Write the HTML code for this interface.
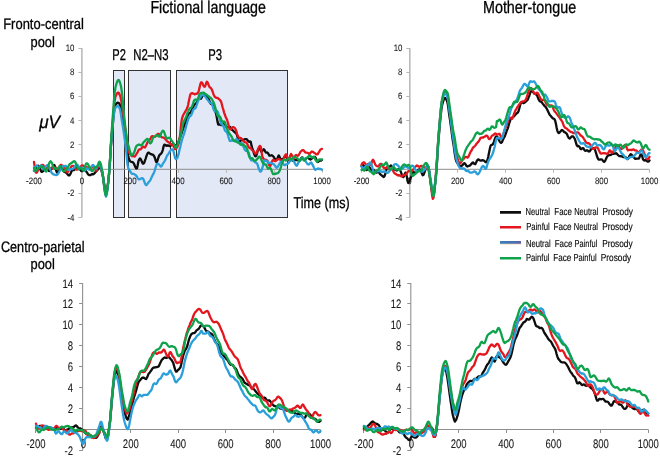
<!DOCTYPE html>
<html><head><meta charset="utf-8"><title>ERP waveforms</title>
<style>html,body{margin:0;padding:0;background:#fff;}body{width:660px;height:456px;overflow:hidden;}svg{display:block;font-family:"Liberation Sans",sans-serif;fill:#000;}text{stroke:#000;stroke-width:0.3px;text-rendering:geometricPrecision;}.tk text{stroke-width:0.08px;fill:#1a1a1a;}.lg text{stroke-width:0.12px;}.c path{fill:none;stroke-width:2.3;stroke-linejoin:round;stroke-linecap:round;}</style></head><body>
<svg width="660" height="456" viewBox="0 0 660 456">
<rect width="660" height="456" fill="#ffffff"/>
<filter id="bl" x="0" y="0" width="660" height="456" filterUnits="userSpaceOnUse"><feGaussianBlur stdDeviation="0.38"/></filter>
<defs><linearGradient id="lg" gradientUnits="userSpaceOnUse" x1="500" y1="0" x2="521" y2="0"><stop offset="0" stop-color="#3b7fba"/><stop offset="0.7" stop-color="#4a6fb0"/><stop offset="1" stop-color="#6b5aa8"/></linearGradient></defs>
<g filter="url(#bl)">
<rect x="113.5" y="70.5" width="11" height="147" fill="#e3e8f6" stroke="#333333" stroke-width="1"/>
<rect x="128.5" y="70.5" width="42" height="147" fill="#e3e8f6" stroke="#333333" stroke-width="1"/>
<rect x="176.5" y="70.5" width="111" height="147" fill="#e3e8f6" stroke="#333333" stroke-width="1"/>
<g class="tk">
<line x1="81.9" y1="48.0" x2="81.9" y2="217.5" stroke="#b6b6b6" stroke-width="1.5"/>
<line x1="34.0" y1="169.3" x2="322.0" y2="169.3" stroke="#8e8e8e" stroke-width="1"/>
<line x1="78.4" y1="217.5" x2="81.9" y2="217.5" stroke="#b6b6b6" stroke-width="1"/>
<text transform="translate(74.5,220.5) scale(0.84,1)" font-size="9.4" text-anchor="end">-4</text>
<line x1="78.4" y1="193.5" x2="81.9" y2="193.5" stroke="#b6b6b6" stroke-width="1"/>
<text transform="translate(74.5,196.3) scale(0.84,1)" font-size="9.4" text-anchor="end">-2</text>
<line x1="78.4" y1="169.5" x2="81.9" y2="169.5" stroke="#b6b6b6" stroke-width="1"/>
<line x1="78.4" y1="144.5" x2="81.9" y2="144.5" stroke="#b6b6b6" stroke-width="1"/>
<text transform="translate(74.5,147.8) scale(0.84,1)" font-size="9.4" text-anchor="end">2</text>
<line x1="78.4" y1="120.5" x2="81.9" y2="120.5" stroke="#b6b6b6" stroke-width="1"/>
<text transform="translate(74.5,123.6) scale(0.84,1)" font-size="9.4" text-anchor="end">4</text>
<line x1="78.4" y1="96.5" x2="81.9" y2="96.5" stroke="#b6b6b6" stroke-width="1"/>
<text transform="translate(74.5,99.4) scale(0.84,1)" font-size="9.4" text-anchor="end">6</text>
<line x1="78.4" y1="72.5" x2="81.9" y2="72.5" stroke="#b6b6b6" stroke-width="1"/>
<text transform="translate(74.5,75.2) scale(0.84,1)" font-size="9.4" text-anchor="end">8</text>
<line x1="78.4" y1="48.5" x2="81.9" y2="48.5" stroke="#b6b6b6" stroke-width="1"/>
<text transform="translate(74.5,51.0) scale(0.84,1)" font-size="9.4" text-anchor="end">10</text>
<line x1="34.5" y1="169.3" x2="34.5" y2="172.8" stroke="#b6b6b6" stroke-width="1"/>
<text transform="translate(34.0,183.6) scale(0.84,1)" font-size="9.4" text-anchor="middle">-200</text>
<line x1="82.5" y1="169.3" x2="82.5" y2="172.8" stroke="#b6b6b6" stroke-width="1"/>
<text transform="translate(82.0,183.6) scale(0.84,1)" font-size="9.4" text-anchor="middle">0</text>
<line x1="130.5" y1="169.3" x2="130.5" y2="172.8" stroke="#b6b6b6" stroke-width="1"/>
<text transform="translate(130.0,183.6) scale(0.84,1)" font-size="9.4" text-anchor="middle">200</text>
<line x1="178.5" y1="169.3" x2="178.5" y2="172.8" stroke="#b6b6b6" stroke-width="1"/>
<text transform="translate(178.0,183.6) scale(0.84,1)" font-size="9.4" text-anchor="middle">400</text>
<line x1="226.5" y1="169.3" x2="226.5" y2="172.8" stroke="#b6b6b6" stroke-width="1"/>
<text transform="translate(226.0,183.6) scale(0.84,1)" font-size="9.4" text-anchor="middle">600</text>
<line x1="274.5" y1="169.3" x2="274.5" y2="172.8" stroke="#b6b6b6" stroke-width="1"/>
<text transform="translate(274.0,183.6) scale(0.84,1)" font-size="9.4" text-anchor="middle">800</text>
<line x1="322.5" y1="169.3" x2="322.5" y2="172.8" stroke="#b6b6b6" stroke-width="1"/>
<text transform="translate(322.0,183.6) scale(0.84,1)" font-size="9.4" text-anchor="middle">1000</text>
<line x1="409.8" y1="48.0" x2="409.8" y2="217.5" stroke="#b6b6b6" stroke-width="1.5"/>
<line x1="361.5" y1="169.3" x2="649.5" y2="169.3" stroke="#8e8e8e" stroke-width="1"/>
<line x1="406.3" y1="217.5" x2="409.8" y2="217.5" stroke="#b6b6b6" stroke-width="1"/>
<text transform="translate(402.4,220.5) scale(0.84,1)" font-size="9.4" text-anchor="end">-4</text>
<line x1="406.3" y1="193.5" x2="409.8" y2="193.5" stroke="#b6b6b6" stroke-width="1"/>
<text transform="translate(402.4,196.3) scale(0.84,1)" font-size="9.4" text-anchor="end">-2</text>
<line x1="406.3" y1="169.5" x2="409.8" y2="169.5" stroke="#b6b6b6" stroke-width="1"/>
<line x1="406.3" y1="144.5" x2="409.8" y2="144.5" stroke="#b6b6b6" stroke-width="1"/>
<text transform="translate(402.4,147.8) scale(0.84,1)" font-size="9.4" text-anchor="end">2</text>
<line x1="406.3" y1="120.5" x2="409.8" y2="120.5" stroke="#b6b6b6" stroke-width="1"/>
<text transform="translate(402.4,123.6) scale(0.84,1)" font-size="9.4" text-anchor="end">4</text>
<line x1="406.3" y1="96.5" x2="409.8" y2="96.5" stroke="#b6b6b6" stroke-width="1"/>
<text transform="translate(402.4,99.4) scale(0.84,1)" font-size="9.4" text-anchor="end">6</text>
<line x1="406.3" y1="72.5" x2="409.8" y2="72.5" stroke="#b6b6b6" stroke-width="1"/>
<text transform="translate(402.4,75.2) scale(0.84,1)" font-size="9.4" text-anchor="end">8</text>
<line x1="406.3" y1="48.5" x2="409.8" y2="48.5" stroke="#b6b6b6" stroke-width="1"/>
<text transform="translate(402.4,51.0) scale(0.84,1)" font-size="9.4" text-anchor="end">10</text>
<line x1="361.5" y1="169.3" x2="361.5" y2="172.8" stroke="#b6b6b6" stroke-width="1"/>
<text transform="translate(361.5,183.6) scale(0.84,1)" font-size="9.4" text-anchor="middle">-200</text>
<line x1="409.5" y1="169.3" x2="409.5" y2="172.8" stroke="#b6b6b6" stroke-width="1"/>
<text transform="translate(409.5,183.6) scale(0.84,1)" font-size="9.4" text-anchor="middle">0</text>
<line x1="457.5" y1="169.3" x2="457.5" y2="172.8" stroke="#b6b6b6" stroke-width="1"/>
<text transform="translate(457.5,183.6) scale(0.84,1)" font-size="9.4" text-anchor="middle">200</text>
<line x1="505.5" y1="169.3" x2="505.5" y2="172.8" stroke="#b6b6b6" stroke-width="1"/>
<text transform="translate(505.5,183.6) scale(0.84,1)" font-size="9.4" text-anchor="middle">400</text>
<line x1="553.5" y1="169.3" x2="553.5" y2="172.8" stroke="#b6b6b6" stroke-width="1"/>
<text transform="translate(553.5,183.6) scale(0.84,1)" font-size="9.4" text-anchor="middle">600</text>
<line x1="601.5" y1="169.3" x2="601.5" y2="172.8" stroke="#b6b6b6" stroke-width="1"/>
<text transform="translate(601.5,183.6) scale(0.84,1)" font-size="9.4" text-anchor="middle">800</text>
<line x1="649.5" y1="169.3" x2="649.5" y2="172.8" stroke="#b6b6b6" stroke-width="1"/>
<text transform="translate(649.5,183.6) scale(0.84,1)" font-size="9.4" text-anchor="middle">1000</text>
<line x1="82.6" y1="283.1" x2="82.6" y2="450.4" stroke="#909090" stroke-width="1.1"/>
<line x1="36.0" y1="429.5" x2="320.5" y2="429.5" stroke="#8e8e8e" stroke-width="1"/>
<line x1="79.1" y1="450.5" x2="82.6" y2="450.5" stroke="#909090" stroke-width="1"/>
<text transform="translate(73.1,454.8) scale(0.77,1)" font-size="12.4" text-anchor="end">-2</text>
<line x1="79.1" y1="429.5" x2="82.6" y2="429.5" stroke="#909090" stroke-width="1"/>
<line x1="79.1" y1="408.5" x2="82.6" y2="408.5" stroke="#909090" stroke-width="1"/>
<text transform="translate(73.1,413.0) scale(0.77,1)" font-size="12.4" text-anchor="end">2</text>
<line x1="79.1" y1="387.5" x2="82.6" y2="387.5" stroke="#909090" stroke-width="1"/>
<text transform="translate(73.1,392.1) scale(0.77,1)" font-size="12.4" text-anchor="end">4</text>
<line x1="79.1" y1="366.5" x2="82.6" y2="366.5" stroke="#909090" stroke-width="1"/>
<text transform="translate(73.1,371.1) scale(0.77,1)" font-size="12.4" text-anchor="end">6</text>
<line x1="79.1" y1="345.5" x2="82.6" y2="345.5" stroke="#909090" stroke-width="1"/>
<text transform="translate(73.1,350.2) scale(0.77,1)" font-size="12.4" text-anchor="end">8</text>
<line x1="79.1" y1="324.5" x2="82.6" y2="324.5" stroke="#909090" stroke-width="1"/>
<text transform="translate(73.1,329.3) scale(0.77,1)" font-size="12.4" text-anchor="end">10</text>
<line x1="79.1" y1="303.5" x2="82.6" y2="303.5" stroke="#909090" stroke-width="1"/>
<text transform="translate(73.1,308.4) scale(0.77,1)" font-size="12.4" text-anchor="end">12</text>
<line x1="79.1" y1="283.5" x2="82.6" y2="283.5" stroke="#909090" stroke-width="1"/>
<text transform="translate(73.1,287.5) scale(0.77,1)" font-size="12.4" text-anchor="end">14</text>
<line x1="35.5" y1="429.5" x2="35.5" y2="433.0" stroke="#909090" stroke-width="1"/>
<text transform="translate(36.0,448.1) scale(0.77,1)" font-size="12.4" text-anchor="middle">-200</text>
<line x1="83.5" y1="429.5" x2="83.5" y2="433.0" stroke="#909090" stroke-width="1"/>
<text transform="translate(83.4,448.1) scale(0.77,1)" font-size="12.4" text-anchor="middle">0</text>
<line x1="130.5" y1="429.5" x2="130.5" y2="433.0" stroke="#909090" stroke-width="1"/>
<text transform="translate(130.8,448.1) scale(0.77,1)" font-size="12.4" text-anchor="middle">200</text>
<line x1="178.5" y1="429.5" x2="178.5" y2="433.0" stroke="#909090" stroke-width="1"/>
<text transform="translate(178.2,448.1) scale(0.77,1)" font-size="12.4" text-anchor="middle">400</text>
<line x1="225.5" y1="429.5" x2="225.5" y2="433.0" stroke="#909090" stroke-width="1"/>
<text transform="translate(225.7,448.1) scale(0.77,1)" font-size="12.4" text-anchor="middle">600</text>
<line x1="273.5" y1="429.5" x2="273.5" y2="433.0" stroke="#909090" stroke-width="1"/>
<text transform="translate(273.1,448.1) scale(0.77,1)" font-size="12.4" text-anchor="middle">800</text>
<line x1="320.5" y1="429.5" x2="320.5" y2="433.0" stroke="#909090" stroke-width="1"/>
<text transform="translate(320.5,448.1) scale(0.77,1)" font-size="12.4" text-anchor="middle">1000</text>
<line x1="410.8" y1="283.1" x2="410.8" y2="450.4" stroke="#909090" stroke-width="1.1"/>
<line x1="363.9" y1="429.5" x2="648.3" y2="429.5" stroke="#8e8e8e" stroke-width="1"/>
<line x1="407.3" y1="450.5" x2="410.8" y2="450.5" stroke="#909090" stroke-width="1"/>
<text transform="translate(401.3,454.8) scale(0.77,1)" font-size="12.4" text-anchor="end">-2</text>
<line x1="407.3" y1="429.5" x2="410.8" y2="429.5" stroke="#909090" stroke-width="1"/>
<line x1="407.3" y1="408.5" x2="410.8" y2="408.5" stroke="#909090" stroke-width="1"/>
<text transform="translate(401.3,413.0) scale(0.77,1)" font-size="12.4" text-anchor="end">2</text>
<line x1="407.3" y1="387.5" x2="410.8" y2="387.5" stroke="#909090" stroke-width="1"/>
<text transform="translate(401.3,392.1) scale(0.77,1)" font-size="12.4" text-anchor="end">4</text>
<line x1="407.3" y1="366.5" x2="410.8" y2="366.5" stroke="#909090" stroke-width="1"/>
<text transform="translate(401.3,371.1) scale(0.77,1)" font-size="12.4" text-anchor="end">6</text>
<line x1="407.3" y1="345.5" x2="410.8" y2="345.5" stroke="#909090" stroke-width="1"/>
<text transform="translate(401.3,350.2) scale(0.77,1)" font-size="12.4" text-anchor="end">8</text>
<line x1="407.3" y1="324.5" x2="410.8" y2="324.5" stroke="#909090" stroke-width="1"/>
<text transform="translate(401.3,329.3) scale(0.77,1)" font-size="12.4" text-anchor="end">10</text>
<line x1="407.3" y1="303.5" x2="410.8" y2="303.5" stroke="#909090" stroke-width="1"/>
<text transform="translate(401.3,308.4) scale(0.77,1)" font-size="12.4" text-anchor="end">12</text>
<line x1="407.3" y1="283.5" x2="410.8" y2="283.5" stroke="#909090" stroke-width="1"/>
<text transform="translate(401.3,287.5) scale(0.77,1)" font-size="12.4" text-anchor="end">14</text>
<line x1="363.5" y1="429.5" x2="363.5" y2="433.0" stroke="#909090" stroke-width="1"/>
<text transform="translate(363.9,448.1) scale(0.77,1)" font-size="12.4" text-anchor="middle">-200</text>
<line x1="411.5" y1="429.5" x2="411.5" y2="433.0" stroke="#909090" stroke-width="1"/>
<text transform="translate(411.3,448.1) scale(0.77,1)" font-size="12.4" text-anchor="middle">0</text>
<line x1="458.5" y1="429.5" x2="458.5" y2="433.0" stroke="#909090" stroke-width="1"/>
<text transform="translate(458.7,448.1) scale(0.77,1)" font-size="12.4" text-anchor="middle">200</text>
<line x1="506.5" y1="429.5" x2="506.5" y2="433.0" stroke="#909090" stroke-width="1"/>
<text transform="translate(506.1,448.1) scale(0.77,1)" font-size="12.4" text-anchor="middle">400</text>
<line x1="553.5" y1="429.5" x2="553.5" y2="433.0" stroke="#909090" stroke-width="1"/>
<text transform="translate(553.5,448.1) scale(0.77,1)" font-size="12.4" text-anchor="middle">600</text>
<line x1="600.5" y1="429.5" x2="600.5" y2="433.0" stroke="#909090" stroke-width="1"/>
<text transform="translate(600.9,448.1) scale(0.77,1)" font-size="12.4" text-anchor="middle">800</text>
<line x1="648.5" y1="429.5" x2="648.5" y2="433.0" stroke="#909090" stroke-width="1"/>
<text transform="translate(648.3,448.1) scale(0.77,1)" font-size="12.4" text-anchor="middle">1000</text>
</g>
<g class="c">
<path d="M34.0,170.8 L34.7,170.2 L35.4,169.5 L36.2,168.4 L36.9,167.2 L37.6,166.2 L38.3,165.7 L39.0,166.4 L39.8,167.9 L40.5,169.9 L41.2,171.5 L41.9,171.9 L42.6,171.5 L43.4,170.8 L44.1,170.0 L44.8,169.7 L45.5,169.3 L46.2,169.1 L47.0,169.2 L47.7,169.6 L48.4,170.6 L49.1,171.0 L49.8,170.9 L50.6,170.2 L51.3,169.1 L52.0,168.1 L52.7,166.8 L53.4,165.5 L54.2,164.9 L54.9,166.1 L55.6,168.4 L56.3,171.0 L57.0,172.5 L57.8,172.2 L58.5,171.0 L59.2,169.1 L59.9,167.8 L60.6,167.0 L61.4,167.0 L62.1,168.3 L62.8,169.6 L63.5,170.9 L64.2,171.9 L65.0,172.1 L65.7,172.2 L66.4,172.9 L67.1,173.7 L67.8,174.6 L68.6,175.3 L69.3,175.4 L70.0,174.7 L70.7,173.2 L71.4,171.5 L72.2,170.6 L72.9,170.1 L73.6,170.2 L74.3,169.7 L75.0,168.7 L75.8,167.8 L76.5,167.5 L77.2,167.9 L77.9,168.0 L78.6,168.2 L79.4,168.6 L80.1,169.4 L80.8,170.5 L81.5,171.2 L82.2,171.1 L83.0,170.4 L83.7,169.8 L84.4,169.9 L85.1,170.2 L85.8,170.9 L86.6,172.0 L87.3,173.0 L88.0,174.2 L88.7,174.8 L89.4,175.2 L90.2,175.2 L90.9,174.7 L91.6,174.4 L92.3,174.1 L93.0,174.3 L93.8,174.0 L94.5,173.2 L95.2,172.4 L95.9,171.6 L96.6,170.9 L97.4,170.2 L98.1,169.2 L98.8,167.8 L99.5,166.8 L100.2,167.2 L101.0,169.0 L101.7,171.5 L102.4,174.2 L103.1,177.5 L103.8,181.7 L104.6,186.2 L105.3,192.1 L106.0,194.0 L106.7,192.4 L107.4,188.1 L108.2,182.0 L108.9,175.4 L109.6,167.1 L110.3,156.4 L111.0,145.3 L111.8,135.6 L112.5,127.7 L113.2,120.0 L113.9,112.9 L114.6,107.7 L115.4,105.3 L116.1,103.9 L116.8,103.2 L117.5,102.7 L118.2,102.8 L119.0,103.3 L119.7,104.2 L120.4,106.1 L121.1,109.9 L121.8,114.9 L122.6,119.6 L123.3,123.8 L124.0,128.2 L124.7,132.8 L125.4,137.6 L126.2,142.0 L126.9,148.8 L127.6,153.3 L128.3,156.7 L129.0,159.0 L129.8,160.7 L130.5,161.5 L131.2,161.8 L131.9,162.0 L132.6,162.1 L133.4,162.8 L134.1,164.0 L134.8,165.7 L135.5,167.4 L136.2,168.5 L137.0,168.3 L137.7,165.2 L138.4,161.3 L139.1,159.6 L139.8,158.5 L140.6,158.9 L141.3,160.3 L142.0,162.1 L142.7,163.6 L143.4,163.5 L144.2,162.9 L144.9,160.7 L145.6,158.8 L146.3,156.5 L147.0,154.7 L147.8,153.0 L148.5,152.6 L149.2,152.9 L149.9,153.5 L150.6,154.1 L151.4,154.1 L152.1,154.7 L152.8,154.6 L153.5,155.3 L154.2,156.2 L155.0,158.2 L155.7,160.8 L156.4,162.2 L157.1,161.8 L157.8,159.4 L158.6,157.0 L159.3,155.3 L160.0,154.6 L160.7,153.9 L161.4,153.3 L162.2,151.8 L162.9,149.5 L163.6,146.2 L164.3,144.6 L165.0,144.8 L165.8,145.3 L166.5,145.9 L167.2,145.5 L167.9,145.4 L168.6,145.6 L169.4,146.1 L170.1,146.2 L170.8,145.6 L171.5,144.7 L172.2,144.3 L173.0,144.4 L173.7,145.2 L174.4,145.4 L175.1,145.5 L175.8,145.1 L176.6,145.0 L177.3,144.0 L178.0,142.9 L178.7,141.2 L179.4,139.0 L180.2,137.2 L180.9,135.0 L181.6,133.4 L182.3,131.1 L183.0,129.0 L183.8,126.9 L184.5,125.0 L185.2,123.2 L185.9,121.3 L186.6,119.0 L187.4,116.6 L188.1,114.7 L188.8,113.7 L189.5,113.1 L190.2,112.9 L191.0,111.9 L191.7,110.6 L192.4,108.8 L193.1,107.0 L193.8,105.5 L194.6,104.5 L195.3,103.9 L196.0,103.5 L196.7,102.4 L197.4,101.0 L198.2,99.4 L198.9,98.3 L199.6,98.5 L200.3,98.6 L201.0,98.6 L201.8,97.1 L202.5,95.8 L203.2,94.8 L203.9,94.4 L204.6,95.2 L205.4,95.3 L206.1,96.0 L206.8,96.1 L207.5,97.0 L208.2,98.3 L209.0,99.8 L209.7,101.8 L210.4,103.2 L211.1,104.0 L211.8,104.3 L212.6,104.5 L213.3,105.3 L214.0,106.9 L214.7,109.0 L215.4,111.6 L216.2,114.3 L216.9,118.0 L217.6,122.1 L218.3,124.6 L219.0,124.7 L219.8,124.4 L220.5,124.6 L221.2,125.1 L221.9,125.2 L222.6,125.0 L223.4,124.4 L224.1,123.9 L224.8,124.4 L225.5,125.3 L226.2,126.6 L227.0,127.4 L227.7,127.4 L228.4,126.9 L229.1,126.5 L229.8,126.8 L230.6,127.8 L231.3,128.7 L232.0,129.8 L232.7,130.2 L233.4,131.0 L234.2,131.7 L234.9,132.4 L235.6,133.0 L236.3,133.4 L237.0,135.2 L237.8,137.9 L238.5,140.7 L239.2,141.8 L239.9,141.4 L240.6,140.7 L241.4,140.1 L242.1,140.1 L242.8,139.9 L243.5,139.7 L244.2,139.7 L245.0,139.1 L245.7,139.1 L246.4,139.1 L247.1,139.7 L247.8,140.6 L248.6,141.4 L249.3,141.8 L250.0,141.4 L250.7,141.8 L251.4,144.9 L252.2,148.2 L252.9,149.7 L253.6,152.1 L254.3,154.4 L255.0,156.0 L255.8,156.3 L256.5,154.9 L257.2,152.8 L257.9,150.4 L258.6,148.8 L259.4,148.7 L260.1,149.3 L260.8,150.8 L261.5,151.7 L262.2,151.1 L263.0,150.2 L263.7,149.2 L264.4,149.8 L265.1,151.4 L265.8,152.5 L266.6,152.6 L267.3,152.5 L268.0,153.1 L268.7,154.4 L269.4,155.6 L270.2,155.6 L270.9,155.6 L271.6,155.2 L272.3,155.6 L273.0,156.2 L273.8,157.0 L274.5,158.4 L275.2,159.0 L275.9,159.8 L276.6,160.0 L277.4,158.6 L278.1,156.6 L278.8,155.4 L279.5,156.7 L280.2,158.7 L281.0,159.1 L281.7,159.9 L282.4,159.6 L283.1,158.9 L283.8,157.9 L284.6,157.1 L285.3,156.7 L286.0,156.7 L286.7,157.5 L287.4,158.8 L288.2,159.9 L288.9,160.1 L289.6,159.8 L290.3,159.0 L291.0,159.5 L291.8,160.0 L292.5,160.8 L293.2,160.8 L293.9,160.5 L294.6,160.3 L295.4,160.1 L296.1,160.2 L296.8,160.0 L297.5,160.1 L298.2,160.3 L299.0,160.6 L299.7,160.3 L300.4,159.5 L301.1,158.2 L301.8,157.4 L302.6,157.7 L303.3,158.9 L304.0,159.8 L304.7,159.8 L305.4,159.4 L306.2,158.3 L306.9,157.9 L307.6,157.8 L308.3,158.1 L309.0,158.7 L309.8,159.1 L310.5,159.5 L311.2,159.1 L311.9,158.5 L312.6,157.8 L313.4,157.4 L314.1,156.8 L314.8,156.9 L315.5,157.6 L316.2,159.1 L317.0,161.1 L317.7,162.0 L318.4,161.7 L319.1,161.1 L319.8,160.4 L320.6,160.5 L321.3,160.5 L322.0,159.7" stroke="#0a0a0a"/>
<path d="M34.0,161.8 L34.7,167.1 L35.4,171.0 L36.2,172.7 L36.9,172.4 L37.6,171.1 L38.3,168.9 L39.0,167.8 L39.8,166.9 L40.5,166.3 L41.2,165.6 L41.9,164.8 L42.6,164.8 L43.4,165.3 L44.1,166.7 L44.8,167.6 L45.5,168.2 L46.2,168.3 L47.0,168.2 L47.7,168.2 L48.4,168.0 L49.1,167.8 L49.8,167.9 L50.6,168.1 L51.3,168.2 L52.0,168.2 L52.7,168.3 L53.4,168.1 L54.2,167.7 L54.9,167.5 L55.6,167.6 L56.3,168.0 L57.0,168.6 L57.8,169.0 L58.5,168.5 L59.2,167.2 L59.9,165.8 L60.6,165.0 L61.4,165.0 L62.1,165.5 L62.8,165.8 L63.5,166.3 L64.2,167.0 L65.0,168.4 L65.7,170.5 L66.4,171.8 L67.1,172.3 L67.8,171.9 L68.6,170.8 L69.3,169.8 L70.0,168.7 L70.7,167.7 L71.4,166.5 L72.2,165.9 L72.9,165.8 L73.6,166.1 L74.3,167.2 L75.0,168.0 L75.8,169.4 L76.5,169.6 L77.2,169.7 L77.9,169.1 L78.6,168.0 L79.4,167.7 L80.1,166.9 L80.8,166.5 L81.5,165.6 L82.2,165.4 L83.0,165.6 L83.7,166.0 L84.4,166.8 L85.1,167.3 L85.8,167.6 L86.6,167.1 L87.3,167.4 L88.0,167.7 L88.7,168.4 L89.4,169.2 L90.2,169.3 L90.9,168.6 L91.6,167.8 L92.3,167.3 L93.0,166.7 L93.8,167.1 L94.5,167.6 L95.2,169.5 L95.9,170.7 L96.6,170.7 L97.4,168.4 L98.1,165.4 L98.8,164.0 L99.5,164.5 L100.2,166.3 L101.0,168.0 L101.7,170.0 L102.4,172.2 L103.1,176.7 L103.8,182.9 L104.6,189.1 L105.3,193.0 L106.0,194.7 L106.7,192.9 L107.4,188.2 L108.2,182.0 L108.9,175.5 L109.6,167.1 L110.3,156.0 L111.0,144.2 L111.8,133.5 L112.5,124.8 L113.2,116.0 L113.9,107.7 L114.6,101.0 L115.4,96.9 L116.1,95.3 L116.8,93.9 L117.5,92.9 L118.2,92.5 L119.0,93.2 L119.7,94.8 L120.4,96.7 L121.1,99.8 L121.8,104.4 L122.6,109.7 L123.3,114.7 L124.0,119.5 L124.7,124.7 L125.4,130.1 L126.2,135.5 L126.9,141.4 L127.6,146.2 L128.3,150.2 L129.0,152.2 L129.8,153.6 L130.5,154.2 L131.2,155.4 L131.9,156.3 L132.6,156.2 L133.4,156.2 L134.1,156.4 L134.8,156.5 L135.5,155.5 L136.2,154.3 L137.0,153.3 L137.7,151.9 L138.4,150.3 L139.1,149.6 L139.8,149.2 L140.6,149.3 L141.3,148.7 L142.0,147.6 L142.7,146.7 L143.4,146.7 L144.2,147.2 L144.9,147.5 L145.6,146.6 L146.3,144.9 L147.0,143.4 L147.8,141.9 L148.5,141.3 L149.2,140.4 L149.9,139.4 L150.6,138.3 L151.4,136.7 L152.1,136.2 L152.8,136.2 L153.5,136.6 L154.2,136.7 L155.0,136.7 L155.7,136.2 L156.4,135.2 L157.1,134.5 L157.8,133.8 L158.6,133.8 L159.3,134.3 L160.0,135.2 L160.7,136.3 L161.4,137.0 L162.2,137.4 L162.9,137.4 L163.6,137.7 L164.3,138.0 L165.0,138.8 L165.8,139.7 L166.5,140.5 L167.2,141.4 L167.9,141.7 L168.6,142.3 L169.4,142.7 L170.1,143.6 L170.8,144.4 L171.5,144.7 L172.2,144.9 L173.0,145.2 L173.7,146.9 L174.4,148.0 L175.1,149.3 L175.8,149.0 L176.6,147.9 L177.3,147.0 L178.0,145.2 L178.7,143.4 L179.4,140.2 L180.2,134.1 L180.9,126.6 L181.6,120.4 L182.3,117.5 L183.0,115.6 L183.8,114.0 L184.5,112.9 L185.2,111.7 L185.9,110.5 L186.6,109.3 L187.4,107.5 L188.1,105.0 L188.8,101.3 L189.5,97.9 L190.2,94.9 L191.0,93.5 L191.7,93.2 L192.4,93.2 L193.1,93.7 L193.8,93.7 L194.6,94.3 L195.3,94.1 L196.0,93.9 L196.7,93.8 L197.4,93.3 L198.2,92.6 L198.9,90.2 L199.6,87.4 L200.3,84.3 L201.0,82.4 L201.8,82.3 L202.5,83.4 L203.2,85.2 L203.9,86.5 L204.6,86.8 L205.4,85.6 L206.1,83.2 L206.8,81.8 L207.5,82.3 L208.2,84.0 L209.0,85.9 L209.7,87.3 L210.4,87.7 L211.1,88.2 L211.8,89.5 L212.6,91.5 L213.3,93.7 L214.0,95.3 L214.7,96.7 L215.4,97.3 L216.2,97.8 L216.9,97.9 L217.6,98.0 L218.3,98.5 L219.0,99.1 L219.8,99.8 L220.5,100.7 L221.2,101.8 L221.9,104.5 L222.6,107.3 L223.4,109.9 L224.1,112.6 L224.8,114.5 L225.5,116.5 L226.2,118.0 L227.0,119.7 L227.7,122.0 L228.4,124.6 L229.1,127.3 L229.8,129.2 L230.6,129.4 L231.3,128.9 L232.0,127.8 L232.7,127.1 L233.4,127.2 L234.2,127.5 L234.9,128.1 L235.6,129.4 L236.3,131.1 L237.0,133.6 L237.8,135.7 L238.5,137.1 L239.2,137.8 L239.9,137.9 L240.6,137.9 L241.4,138.5 L242.1,139.3 L242.8,140.5 L243.5,141.1 L244.2,141.8 L245.0,142.1 L245.7,142.3 L246.4,142.8 L247.1,143.5 L247.8,145.4 L248.6,146.9 L249.3,147.9 L250.0,148.2 L250.7,147.8 L251.4,149.4 L252.2,150.2 L252.9,150.5 L253.6,151.1 L254.3,152.2 L255.0,153.5 L255.8,153.4 L256.5,153.3 L257.2,151.4 L257.9,149.5 L258.6,147.7 L259.4,146.2 L260.1,145.9 L260.8,146.7 L261.5,151.4 L262.2,156.1 L263.0,158.1 L263.7,159.2 L264.4,159.3 L265.1,159.8 L265.8,160.1 L266.6,160.0 L267.3,160.6 L268.0,161.8 L268.7,164.2 L269.4,165.6 L270.2,166.1 L270.9,164.7 L271.6,162.5 L272.3,161.0 L273.0,160.0 L273.8,160.3 L274.5,160.8 L275.2,161.2 L275.9,160.8 L276.6,160.3 L277.4,159.5 L278.1,159.2 L278.8,159.0 L279.5,159.2 L280.2,159.7 L281.0,160.3 L281.7,161.5 L282.4,161.5 L283.1,160.5 L283.8,158.5 L284.6,156.2 L285.3,155.0 L286.0,154.3 L286.7,155.8 L287.4,157.5 L288.2,159.1 L288.9,159.5 L289.6,157.9 L290.3,155.5 L291.0,153.9 L291.8,154.9 L292.5,156.7 L293.2,158.3 L293.9,158.1 L294.6,156.9 L295.4,155.4 L296.1,155.0 L296.8,155.4 L297.5,155.8 L298.2,155.6 L299.0,154.5 L299.7,153.3 L300.4,151.9 L301.1,151.2 L301.8,150.5 L302.6,150.1 L303.3,150.1 L304.0,150.8 L304.7,151.7 L305.4,152.6 L306.2,152.7 L306.9,152.7 L307.6,152.8 L308.3,153.2 L309.0,153.9 L309.8,153.7 L310.5,152.8 L311.2,151.9 L311.9,151.5 L312.6,151.9 L313.4,152.2 L314.1,152.7 L314.8,153.0 L315.5,153.7 L316.2,154.3 L317.0,154.4 L317.7,154.2 L318.4,152.8 L319.1,151.9 L319.8,150.5 L320.6,149.6 L321.3,149.1 L322.0,148.9" stroke="#e2181f"/>
<path d="M34.0,170.8 L34.7,168.7 L35.4,166.6 L36.2,165.6 L36.9,165.4 L37.6,166.5 L38.3,167.7 L39.0,167.8 L39.8,167.2 L40.5,165.7 L41.2,165.4 L41.9,166.1 L42.6,168.0 L43.4,169.2 L44.1,169.2 L44.8,168.1 L45.5,166.5 L46.2,165.8 L47.0,165.2 L47.7,165.4 L48.4,165.8 L49.1,166.9 L49.8,168.6 L50.6,170.5 L51.3,172.2 L52.0,173.3 L52.7,173.7 L53.4,174.4 L54.2,174.5 L54.9,174.8 L55.6,175.0 L56.3,175.0 L57.0,174.9 L57.8,174.1 L58.5,173.1 L59.2,171.8 L59.9,170.7 L60.6,169.2 L61.4,167.9 L62.1,166.8 L62.8,166.2 L63.5,166.2 L64.2,166.1 L65.0,166.0 L65.7,165.8 L66.4,166.3 L67.1,167.7 L67.8,169.0 L68.6,169.9 L69.3,169.8 L70.0,169.3 L70.7,169.1 L71.4,169.2 L72.2,169.2 L72.9,168.8 L73.6,168.1 L74.3,167.3 L75.0,166.0 L75.8,165.1 L76.5,164.6 L77.2,164.6 L77.9,165.4 L78.6,166.4 L79.4,167.5 L80.1,168.0 L80.8,167.7 L81.5,167.6 L82.2,167.9 L83.0,169.0 L83.7,170.3 L84.4,170.9 L85.1,170.4 L85.8,169.4 L86.6,168.6 L87.3,168.3 L88.0,168.7 L88.7,169.4 L89.4,169.7 L90.2,169.3 L90.9,167.9 L91.6,166.4 L92.3,165.3 L93.0,164.9 L93.8,165.7 L94.5,167.1 L95.2,168.5 L95.9,168.7 L96.6,167.9 L97.4,166.2 L98.1,164.9 L98.8,164.5 L99.5,165.0 L100.2,166.1 L101.0,167.9 L101.7,170.3 L102.4,172.7 L103.1,176.9 L103.8,182.9 L104.6,190.2 L105.3,194.3 L106.0,196.6 L106.7,194.6 L107.4,189.5 L108.2,182.7 L108.9,175.5 L109.6,166.9 L110.3,156.1 L111.0,144.9 L111.8,135.3 L112.5,127.8 L113.2,120.5 L113.9,114.2 L114.6,109.9 L115.4,108.0 L116.1,107.0 L116.8,106.2 L117.5,105.9 L118.2,106.3 L119.0,107.2 L119.7,108.5 L120.4,111.0 L121.1,115.3 L121.8,120.3 L122.6,125.0 L123.3,129.4 L124.0,134.0 L124.7,138.8 L125.4,144.0 L126.2,150.7 L126.9,158.8 L127.6,165.2 L128.3,168.3 L129.0,169.3 L129.8,170.6 L130.5,171.8 L131.2,173.0 L131.9,173.8 L132.6,173.8 L133.4,173.8 L134.1,174.0 L134.8,174.6 L135.5,174.8 L136.2,175.7 L137.0,176.8 L137.7,178.1 L138.4,179.1 L139.1,179.3 L139.8,179.3 L140.6,178.8 L141.3,178.4 L142.0,178.1 L142.7,178.3 L143.4,179.2 L144.2,181.2 L144.9,183.3 L145.6,184.6 L146.3,185.2 L147.0,184.5 L147.8,183.4 L148.5,182.3 L149.2,181.5 L149.9,180.9 L150.6,179.5 L151.4,177.8 L152.1,176.2 L152.8,174.9 L153.5,173.7 L154.2,172.1 L155.0,169.7 L155.7,167.2 L156.4,165.1 L157.1,164.0 L157.8,163.8 L158.6,164.0 L159.3,164.7 L160.0,165.7 L160.7,166.6 L161.4,166.3 L162.2,165.1 L162.9,163.7 L163.6,162.7 L164.3,161.7 L165.0,160.5 L165.8,158.8 L166.5,156.8 L167.2,155.5 L167.9,154.5 L168.6,153.6 L169.4,152.2 L170.1,151.1 L170.8,150.1 L171.5,149.5 L172.2,149.4 L173.0,149.8 L173.7,152.2 L174.4,155.2 L175.1,158.0 L175.8,159.1 L176.6,158.9 L177.3,158.0 L178.0,155.8 L178.7,153.7 L179.4,150.3 L180.2,147.1 L180.9,143.9 L181.6,141.1 L182.3,139.0 L183.0,136.6 L183.8,134.6 L184.5,132.3 L185.2,129.8 L185.9,127.2 L186.6,124.5 L187.4,122.0 L188.1,119.7 L188.8,117.9 L189.5,116.7 L190.2,116.1 L191.0,115.4 L191.7,113.9 L192.4,112.0 L193.1,110.0 L193.8,109.2 L194.6,108.7 L195.3,108.3 L196.0,107.1 L196.7,105.0 L197.4,102.9 L198.2,100.6 L198.9,99.5 L199.6,98.2 L200.3,97.3 L201.0,96.1 L201.8,95.0 L202.5,95.0 L203.2,94.9 L203.9,95.2 L204.6,96.0 L205.4,96.8 L206.1,97.8 L206.8,98.8 L207.5,99.7 L208.2,100.6 L209.0,101.6 L209.7,102.6 L210.4,102.8 L211.1,102.8 L211.8,103.5 L212.6,105.5 L213.3,108.2 L214.0,110.4 L214.7,111.3 L215.4,111.3 L216.2,110.7 L216.9,110.9 L217.6,111.5 L218.3,113.4 L219.0,116.0 L219.8,119.2 L220.5,121.9 L221.2,123.8 L221.9,124.4 L222.6,124.6 L223.4,126.1 L224.1,127.9 L224.8,130.2 L225.5,131.1 L226.2,131.7 L227.0,132.6 L227.7,134.2 L228.4,136.8 L229.1,138.9 L229.8,140.8 L230.6,141.0 L231.3,140.7 L232.0,140.2 L232.7,140.1 L233.4,140.9 L234.2,141.1 L234.9,141.0 L235.6,139.7 L236.3,139.0 L237.0,139.3 L237.8,140.4 L238.5,142.2 L239.2,143.1 L239.9,143.7 L240.6,143.3 L241.4,143.1 L242.1,143.5 L242.8,144.5 L243.5,146.7 L244.2,148.4 L245.0,150.0 L245.7,150.7 L246.4,150.9 L247.1,150.8 L247.8,151.2 L248.6,152.4 L249.3,154.7 L250.0,157.4 L250.7,159.4 L251.4,160.5 L252.2,160.2 L252.9,160.0 L253.6,160.5 L254.3,161.3 L255.0,162.4 L255.8,162.5 L256.5,162.9 L257.2,163.8 L257.9,165.7 L258.6,168.2 L259.4,170.1 L260.1,171.6 L260.8,171.6 L261.5,170.6 L262.2,168.4 L263.0,165.9 L263.7,162.5 L264.4,160.3 L265.1,160.7 L265.8,161.0 L266.6,160.9 L267.3,161.5 L268.0,161.9 L268.7,162.8 L269.4,162.9 L270.2,162.8 L270.9,163.2 L271.6,163.1 L272.3,163.6 L273.0,163.8 L273.8,164.3 L274.5,165.0 L275.2,166.0 L275.9,167.1 L276.6,167.7 L277.4,167.2 L278.1,166.1 L278.8,165.1 L279.5,163.7 L280.2,162.6 L281.0,161.7 L281.7,161.6 L282.4,162.4 L283.1,163.7 L283.8,164.7 L284.6,165.1 L285.3,165.0 L286.0,164.3 L286.7,164.4 L287.4,163.9 L288.2,163.7 L288.9,162.7 L289.6,161.6 L290.3,160.6 L291.0,159.2 L291.8,159.8 L292.5,159.9 L293.2,160.6 L293.9,161.4 L294.6,162.7 L295.4,164.4 L296.1,165.4 L296.8,165.7 L297.5,164.6 L298.2,163.1 L299.0,161.5 L299.7,160.8 L300.4,159.8 L301.1,159.1 L301.8,158.4 L302.6,157.9 L303.3,157.9 L304.0,158.5 L304.7,159.6 L305.4,161.0 L306.2,162.2 L306.9,163.2 L307.6,164.1 L308.3,164.4 L309.0,164.5 L309.8,163.6 L310.5,162.8 L311.2,162.5 L311.9,163.4 L312.6,164.9 L313.4,166.4 L314.1,168.2 L314.8,169.2 L315.5,169.9 L316.2,169.4 L317.0,168.8 L317.7,168.6 L318.4,168.5 L319.1,169.0 L319.8,168.9 L320.6,169.0 L321.3,169.2 L322.0,169.7" stroke="#2a9fd9"/>
<path d="M34.0,167.9 L34.7,169.9 L35.4,170.8 L36.2,170.6 L36.9,169.8 L37.6,168.7 L38.3,168.5 L39.0,167.8 L39.8,167.2 L40.5,166.5 L41.2,166.5 L41.9,166.7 L42.6,167.0 L43.4,167.7 L44.1,168.5 L44.8,170.1 L45.5,171.0 L46.2,171.5 L47.0,170.1 L47.7,168.0 L48.4,165.7 L49.1,163.4 L49.8,162.2 L50.6,161.2 L51.3,162.1 L52.0,163.2 L52.7,165.4 L53.4,167.2 L54.2,168.2 L54.9,168.8 L55.6,168.4 L56.3,168.6 L57.0,168.7 L57.8,168.7 L58.5,167.9 L59.2,166.7 L59.9,166.1 L60.6,166.3 L61.4,167.7 L62.1,169.2 L62.8,170.6 L63.5,171.3 L64.2,171.3 L65.0,170.8 L65.7,169.7 L66.4,169.0 L67.1,168.2 L67.8,167.3 L68.6,166.0 L69.3,164.6 L70.0,163.9 L70.7,163.4 L71.4,163.1 L72.2,162.6 L72.9,161.9 L73.6,161.3 L74.3,161.1 L75.0,161.6 L75.8,163.1 L76.5,165.0 L77.2,166.9 L77.9,168.5 L78.6,169.3 L79.4,169.3 L80.1,168.4 L80.8,168.1 L81.5,168.3 L82.2,169.4 L83.0,170.5 L83.7,170.4 L84.4,168.7 L85.1,166.2 L85.8,164.3 L86.6,163.3 L87.3,163.4 L88.0,164.2 L88.7,165.6 L89.4,166.9 L90.2,168.2 L90.9,169.7 L91.6,170.8 L92.3,171.2 L93.0,170.6 L93.8,169.2 L94.5,167.8 L95.2,166.9 L95.9,167.0 L96.6,167.3 L97.4,166.3 L98.1,164.6 L98.8,162.4 L99.5,161.6 L100.2,162.5 L101.0,164.8 L101.7,168.5 L102.4,171.9 L103.1,177.2 L103.8,183.6 L104.6,189.4 L105.3,193.7 L106.0,195.5 L106.7,193.6 L107.4,189.1 L108.2,182.8 L108.9,175.7 L109.6,166.6 L110.3,154.5 L111.0,141.8 L111.8,130.1 L112.5,120.4 L113.2,110.6 L113.9,101.2 L114.6,93.3 L115.4,87.8 L116.1,85.0 L116.8,82.7 L117.5,81.0 L118.2,80.0 L119.0,80.2 L119.7,81.7 L120.4,84.0 L121.1,86.8 L121.8,91.5 L122.6,98.7 L123.3,106.9 L124.0,114.3 L124.7,121.0 L125.4,127.5 L126.2,133.7 L126.9,140.1 L127.6,143.5 L128.3,145.4 L129.0,147.6 L129.8,150.7 L130.5,153.2 L131.2,155.4 L131.9,155.2 L132.6,154.5 L133.4,153.7 L134.1,152.3 L134.8,150.7 L135.5,148.0 L136.2,146.5 L137.0,145.5 L137.7,145.1 L138.4,144.8 L139.1,144.5 L139.8,144.9 L140.6,145.3 L141.3,145.5 L142.0,144.9 L142.7,143.6 L143.4,142.4 L144.2,141.7 L144.9,140.9 L145.6,140.2 L146.3,139.6 L147.0,138.9 L147.8,139.2 L148.5,140.2 L149.2,141.8 L149.9,143.1 L150.6,143.3 L151.4,142.3 L152.1,140.5 L152.8,138.2 L153.5,137.4 L154.2,136.8 L155.0,136.4 L155.7,136.0 L156.4,135.2 L157.1,135.2 L157.8,135.6 L158.6,136.3 L159.3,136.7 L160.0,136.2 L160.7,134.5 L161.4,132.7 L162.2,131.3 L162.9,130.7 L163.6,131.1 L164.3,132.3 L165.0,134.7 L165.8,136.8 L166.5,138.3 L167.2,138.5 L167.9,138.0 L168.6,137.8 L169.4,137.7 L170.1,138.4 L170.8,139.1 L171.5,140.3 L172.2,141.4 L173.0,142.4 L173.7,143.5 L174.4,145.0 L175.1,146.8 L175.8,147.7 L176.6,147.2 L177.3,145.1 L178.0,142.8 L178.7,141.0 L179.4,139.5 L180.2,137.8 L180.9,134.6 L181.6,131.0 L182.3,126.8 L183.0,123.8 L183.8,121.4 L184.5,120.1 L185.2,118.9 L185.9,117.2 L186.6,115.5 L187.4,113.2 L188.1,111.6 L188.8,109.8 L189.5,109.1 L190.2,108.1 L191.0,107.7 L191.7,107.0 L192.4,105.5 L193.1,103.7 L193.8,101.1 L194.6,99.9 L195.3,99.5 L196.0,99.7 L196.7,100.2 L197.4,99.4 L198.2,98.0 L198.9,95.8 L199.6,94.3 L200.3,93.4 L201.0,92.9 L201.8,92.8 L202.5,92.8 L203.2,92.6 L203.9,92.8 L204.6,93.3 L205.4,94.1 L206.1,94.4 L206.8,94.7 L207.5,95.4 L208.2,95.9 L209.0,96.7 L209.7,97.2 L210.4,97.6 L211.1,98.3 L211.8,99.2 L212.6,100.5 L213.3,102.1 L214.0,103.4 L214.7,105.7 L215.4,108.0 L216.2,111.1 L216.9,113.9 L217.6,115.7 L218.3,116.8 L219.0,116.5 L219.8,116.5 L220.5,117.4 L221.2,119.4 L221.9,121.3 L222.6,122.0 L223.4,121.6 L224.1,121.5 L224.8,121.8 L225.5,124.2 L226.2,126.5 L227.0,128.7 L227.7,130.3 L228.4,131.6 L229.1,133.3 L229.8,134.1 L230.6,135.2 L231.3,136.2 L232.0,137.4 L232.7,138.8 L233.4,140.1 L234.2,140.9 L234.9,141.0 L235.6,141.2 L236.3,141.7 L237.0,142.1 L237.8,142.6 L238.5,142.6 L239.2,143.2 L239.9,143.9 L240.6,144.6 L241.4,145.1 L242.1,144.8 L242.8,144.5 L243.5,144.6 L244.2,145.3 L245.0,145.9 L245.7,146.6 L246.4,147.5 L247.1,149.0 L247.8,151.8 L248.6,154.4 L249.3,156.7 L250.0,158.0 L250.7,158.3 L251.4,158.2 L252.2,158.1 L252.9,158.9 L253.6,159.9 L254.3,160.7 L255.0,160.8 L255.8,160.6 L256.5,159.8 L257.2,159.1 L257.9,158.1 L258.6,156.8 L259.4,156.7 L260.1,157.1 L260.8,158.3 L261.5,160.2 L262.2,161.5 L263.0,163.3 L263.7,164.1 L264.4,164.3 L265.1,164.5 L265.8,164.3 L266.6,165.9 L267.3,167.4 L268.0,168.7 L268.7,168.4 L269.4,168.0 L270.2,168.0 L270.9,168.7 L271.6,170.8 L272.3,172.4 L273.0,174.1 L273.8,174.2 L274.5,174.1 L275.2,173.9 L275.9,173.5 L276.6,173.5 L277.4,173.2 L278.1,172.9 L278.8,172.2 L279.5,171.1 L280.2,169.1 L281.0,166.8 L281.7,164.0 L282.4,161.9 L283.1,160.4 L283.8,159.7 L284.6,159.8 L285.3,160.0 L286.0,160.5 L286.7,160.3 L287.4,159.7 L288.2,159.0 L288.9,158.5 L289.6,158.5 L290.3,159.0 L291.0,159.4 L291.8,159.6 L292.5,158.7 L293.2,157.7 L293.9,156.7 L294.6,156.7 L295.4,157.4 L296.1,157.9 L296.8,158.2 L297.5,158.4 L298.2,159.4 L299.0,160.5 L299.7,161.2 L300.4,160.2 L301.1,159.0 L301.8,158.0 L302.6,158.6 L303.3,159.8 L304.0,160.6 L304.7,160.4 L305.4,159.2 L306.2,158.3 L306.9,157.8 L307.6,157.6 L308.3,156.6 L309.0,155.9 L309.8,155.2 L310.5,156.0 L311.2,157.0 L311.9,157.6 L312.6,157.2 L313.4,156.7 L314.1,157.1 L314.8,158.2 L315.5,159.9 L316.2,160.8 L317.0,161.8 L317.7,161.2 L318.4,160.4 L319.1,159.6 L319.8,159.3 L320.6,159.5 L321.3,159.6 L322.0,159.6" stroke="#10a24c"/>
<path d="M361.5,166.0 L362.2,165.6 L362.9,165.1 L363.7,165.5 L364.4,166.6 L365.1,168.2 L365.8,169.7 L366.5,170.0 L367.3,169.5 L368.0,168.3 L368.7,167.3 L369.4,167.2 L370.1,168.0 L370.9,169.4 L371.6,170.2 L372.3,170.4 L373.0,170.2 L373.7,170.0 L374.5,170.8 L375.2,171.5 L375.9,172.5 L376.6,172.7 L377.3,171.9 L378.1,171.8 L378.8,172.0 L379.5,173.3 L380.2,174.2 L380.9,174.8 L381.7,175.5 L382.4,176.0 L383.1,176.5 L383.8,177.0 L384.5,176.2 L385.3,174.0 L386.0,171.2 L386.7,168.6 L387.4,166.9 L388.1,166.6 L388.9,166.9 L389.6,166.8 L390.3,165.9 L391.0,165.5 L391.7,166.3 L392.5,167.9 L393.2,169.4 L393.9,169.6 L394.6,169.6 L395.3,169.5 L396.1,170.2 L396.8,170.5 L397.5,170.1 L398.2,169.5 L398.9,169.0 L399.7,169.6 L400.4,170.7 L401.1,172.6 L401.8,174.6 L402.5,176.4 L403.3,177.0 L404.0,176.0 L404.7,174.2 L405.4,172.6 L406.1,173.2 L406.9,176.9 L407.6,181.2 L408.3,183.0 L409.0,182.1 L409.7,180.7 L410.5,178.4 L411.2,176.7 L411.9,174.5 L412.6,172.4 L413.3,171.9 L414.1,172.3 L414.8,173.1 L415.5,173.4 L416.2,172.8 L416.9,171.6 L417.7,170.5 L418.4,169.7 L419.1,169.5 L419.8,169.4 L420.5,170.1 L421.3,171.7 L422.0,173.8 L422.7,175.2 L423.4,174.9 L424.1,173.4 L424.9,171.2 L425.6,169.2 L426.3,167.5 L427.0,166.2 L427.7,165.4 L428.5,166.9 L429.2,171.0 L429.9,176.7 L430.6,182.4 L431.3,187.7 L432.1,192.0 L432.8,194.7 L433.5,195.0 L434.2,191.4 L434.9,185.6 L435.7,179.0 L436.4,171.2 L437.1,160.8 L437.8,149.7 L438.5,139.6 L439.3,131.1 L440.0,122.9 L440.7,115.5 L441.4,109.3 L442.1,105.2 L442.9,102.3 L443.6,99.9 L444.3,98.3 L445.0,98.0 L445.7,98.5 L446.5,99.8 L447.2,101.5 L447.9,104.8 L448.6,109.8 L449.3,115.3 L450.1,120.3 L450.8,125.5 L451.5,130.7 L452.2,136.0 L452.9,141.0 L453.7,145.6 L454.4,151.2 L455.1,155.9 L455.8,159.6 L456.5,161.6 L457.3,162.8 L458.0,164.1 L458.7,164.9 L459.4,165.9 L460.1,165.9 L460.9,166.0 L461.6,166.0 L462.3,165.4 L463.0,164.5 L463.7,163.6 L464.5,163.2 L465.2,163.8 L465.9,164.9 L466.6,166.1 L467.3,166.5 L468.1,166.2 L468.8,166.0 L469.5,165.6 L470.2,165.4 L470.9,164.4 L471.7,163.6 L472.4,162.7 L473.1,162.5 L473.8,163.5 L474.5,163.9 L475.3,164.1 L476.0,162.8 L476.7,161.2 L477.4,160.0 L478.1,159.4 L478.9,159.7 L479.6,160.2 L480.3,160.5 L481.0,160.6 L481.7,160.4 L482.5,160.2 L483.2,160.3 L483.9,160.6 L484.6,161.2 L485.3,161.7 L486.1,162.3 L486.8,162.0 L487.5,160.0 L488.2,157.0 L488.9,153.5 L489.7,149.4 L490.4,146.3 L491.1,145.0 L491.8,144.8 L492.5,144.6 L493.3,143.5 L494.0,141.7 L494.7,139.4 L495.4,137.5 L496.1,136.3 L496.9,136.5 L497.6,137.3 L498.3,138.8 L499.0,140.2 L499.7,141.6 L500.5,142.6 L501.2,142.8 L501.9,142.2 L502.6,140.6 L503.3,139.0 L504.1,137.5 L504.8,136.3 L505.5,134.2 L506.2,132.5 L506.9,130.4 L507.7,128.6 L508.4,126.3 L509.1,123.7 L509.8,121.6 L510.5,119.4 L511.3,118.4 L512.0,117.6 L512.7,117.3 L513.4,116.9 L514.1,116.4 L514.9,115.4 L515.6,114.3 L516.3,113.7 L517.0,113.1 L517.7,112.8 L518.5,111.2 L519.2,108.8 L519.9,106.0 L520.6,103.7 L521.3,102.5 L522.1,102.2 L522.8,102.8 L523.5,103.1 L524.2,102.9 L524.9,102.4 L525.7,101.6 L526.4,101.1 L527.1,100.3 L527.8,99.5 L528.5,97.7 L529.3,95.7 L530.0,93.4 L530.7,91.8 L531.4,91.1 L532.1,91.2 L532.9,92.1 L533.6,92.7 L534.3,93.5 L535.0,94.0 L535.7,94.2 L536.5,94.8 L537.2,95.7 L537.9,97.5 L538.6,99.2 L539.3,100.6 L540.1,101.4 L540.8,101.6 L541.5,101.9 L542.2,103.0 L542.9,103.9 L543.7,104.8 L544.4,105.9 L545.1,106.4 L545.8,107.3 L546.5,108.2 L547.3,109.8 L548.0,111.3 L548.7,112.8 L549.4,114.3 L550.1,115.2 L550.9,116.1 L551.6,117.0 L552.3,117.9 L553.0,118.5 L553.7,118.6 L554.5,119.2 L555.2,120.7 L555.9,123.8 L556.6,127.4 L557.3,130.6 L558.1,132.5 L558.8,133.1 L559.5,132.7 L560.2,131.7 L560.9,130.9 L561.7,130.0 L562.4,130.2 L563.1,130.7 L563.8,131.7 L564.5,132.2 L565.3,132.4 L566.0,133.1 L566.7,133.7 L567.4,135.3 L568.1,136.9 L568.9,138.1 L569.6,138.5 L570.3,138.0 L571.0,137.3 L571.7,136.3 L572.5,136.4 L573.2,136.5 L573.9,137.6 L574.6,138.4 L575.3,140.4 L576.1,143.1 L576.8,145.3 L577.5,146.2 L578.2,145.8 L578.9,146.3 L579.7,147.1 L580.4,148.8 L581.1,149.2 L581.8,148.8 L582.5,148.1 L583.3,148.1 L584.0,149.4 L584.7,150.4 L585.4,150.8 L586.1,150.7 L586.9,150.2 L587.6,150.6 L588.3,151.2 L589.0,151.6 L589.7,151.2 L590.5,150.1 L591.2,148.9 L591.9,148.1 L592.6,147.8 L593.3,148.1 L594.1,148.7 L594.8,149.4 L595.5,151.2 L596.2,153.6 L596.9,156.0 L597.7,158.1 L598.4,159.3 L599.1,159.7 L599.8,159.6 L600.5,159.4 L601.3,159.3 L602.0,159.6 L602.7,160.5 L603.4,161.4 L604.1,162.0 L604.9,161.2 L605.6,159.8 L606.3,158.2 L607.0,156.8 L607.7,156.0 L608.5,155.3 L609.2,155.0 L609.9,155.1 L610.6,154.9 L611.3,154.6 L612.1,154.0 L612.8,153.4 L613.5,153.9 L614.2,153.6 L614.9,153.4 L615.7,153.5 L616.4,153.2 L617.1,154.1 L617.8,154.9 L618.5,155.5 L619.3,156.2 L620.0,156.0 L620.7,156.3 L621.4,156.3 L622.1,156.1 L622.9,157.0 L623.6,156.9 L624.3,157.1 L625.0,157.1 L625.7,157.3 L626.5,158.1 L627.2,158.5 L627.9,159.1 L628.6,158.0 L629.3,156.2 L630.1,154.9 L630.8,154.1 L631.5,154.7 L632.2,155.3 L632.9,156.1 L633.7,157.2 L634.4,157.9 L635.1,158.9 L635.8,158.8 L636.5,158.6 L637.3,158.6 L638.0,158.6 L638.7,158.7 L639.4,157.6 L640.1,155.5 L640.9,154.3 L641.6,154.5 L642.3,156.5 L643.0,159.1 L643.7,160.2 L644.5,160.5 L645.2,160.1 L645.9,160.3 L646.6,160.8 L647.3,161.4 L648.1,161.7 L648.8,161.4 L649.5,160.5" stroke="#0a0a0a"/>
<path d="M361.5,164.9 L362.2,163.4 L362.9,162.8 L363.7,162.4 L364.4,162.5 L365.1,163.6 L365.8,164.4 L366.5,165.3 L367.3,165.0 L368.0,164.0 L368.7,163.7 L369.4,164.2 L370.1,164.8 L370.9,164.7 L371.6,162.9 L372.3,160.6 L373.0,159.8 L373.7,160.5 L374.5,162.8 L375.2,164.3 L375.9,165.4 L376.6,166.0 L377.3,166.3 L378.1,166.5 L378.8,166.0 L379.5,164.8 L380.2,164.0 L380.9,163.9 L381.7,164.3 L382.4,165.4 L383.1,166.6 L383.8,167.8 L384.5,168.2 L385.3,168.2 L386.0,167.7 L386.7,167.7 L387.4,168.0 L388.1,168.9 L388.9,169.3 L389.6,169.2 L390.3,169.1 L391.0,168.6 L391.7,169.0 L392.5,169.6 L393.2,171.0 L393.9,172.4 L394.6,173.2 L395.3,173.7 L396.1,174.1 L396.8,174.8 L397.5,175.0 L398.2,175.5 L398.9,175.1 L399.7,175.5 L400.4,175.9 L401.1,176.4 L401.8,176.3 L402.5,175.7 L403.3,175.5 L404.0,175.0 L404.7,174.9 L405.4,174.8 L406.1,174.2 L406.9,173.2 L407.6,172.1 L408.3,171.3 L409.0,170.8 L409.7,170.9 L410.5,171.2 L411.2,171.5 L411.9,171.1 L412.6,170.4 L413.3,169.4 L414.1,168.4 L414.8,167.7 L415.5,166.6 L416.2,166.0 L416.9,165.5 L417.7,165.7 L418.4,166.5 L419.1,166.8 L419.8,166.8 L420.5,166.1 L421.3,165.9 L422.0,166.2 L422.7,166.6 L423.4,167.1 L424.1,167.2 L424.9,167.6 L425.6,167.8 L426.3,168.1 L427.0,168.1 L427.7,167.7 L428.5,169.3 L429.2,172.6 L429.9,177.3 L430.6,182.1 L431.3,187.9 L432.1,195.1 L432.8,198.8 L433.5,197.9 L434.2,192.2 L434.9,184.3 L435.7,176.6 L436.4,167.5 L437.1,157.3 L437.8,146.5 L438.5,136.3 L439.3,127.2 L440.0,118.5 L440.7,110.6 L441.4,104.3 L442.1,100.0 L442.9,97.0 L443.6,94.3 L444.3,92.3 L445.0,91.7 L445.7,92.3 L446.5,93.5 L447.2,95.2 L447.9,97.6 L448.6,102.1 L449.3,107.6 L450.1,113.0 L450.8,117.7 L451.5,122.5 L452.2,127.6 L452.9,132.9 L453.7,137.9 L454.4,144.6 L455.1,149.5 L455.8,153.3 L456.5,156.0 L457.3,158.0 L458.0,159.9 L458.7,161.9 L459.4,163.0 L460.1,163.5 L460.9,162.6 L461.6,161.3 L462.3,160.2 L463.0,159.2 L463.7,158.7 L464.5,157.6 L465.2,157.0 L465.9,156.9 L466.6,157.1 L467.3,157.6 L468.1,157.2 L468.8,155.9 L469.5,154.2 L470.2,152.6 L470.9,151.3 L471.7,150.2 L472.4,148.6 L473.1,147.6 L473.8,146.9 L474.5,146.3 L475.3,145.7 L476.0,144.5 L476.7,143.5 L477.4,142.8 L478.1,142.1 L478.9,141.0 L479.6,139.7 L480.3,138.3 L481.0,137.8 L481.7,137.6 L482.5,137.5 L483.2,137.5 L483.9,137.0 L484.6,136.8 L485.3,136.2 L486.1,135.7 L486.8,135.6 L487.5,136.2 L488.2,137.6 L488.9,138.8 L489.7,139.1 L490.4,138.5 L491.1,137.2 L491.8,135.9 L492.5,135.3 L493.3,135.1 L494.0,134.4 L494.7,133.7 L495.4,133.4 L496.1,133.8 L496.9,134.6 L497.6,134.6 L498.3,134.2 L499.0,133.8 L499.7,133.9 L500.5,135.7 L501.2,137.4 L501.9,137.9 L502.6,136.7 L503.3,134.2 L504.1,131.8 L504.8,129.7 L505.5,127.7 L506.2,126.1 L506.9,124.3 L507.7,122.2 L508.4,120.1 L509.1,118.4 L509.8,117.9 L510.5,118.0 L511.3,118.6 L512.0,118.8 L512.7,117.7 L513.4,115.7 L514.1,113.7 L514.9,111.6 L515.6,110.2 L516.3,109.1 L517.0,107.7 L517.7,106.7 L518.5,105.3 L519.2,104.5 L519.9,103.5 L520.6,102.5 L521.3,101.8 L522.1,101.6 L522.8,101.5 L523.5,101.4 L524.2,101.1 L524.9,100.7 L525.7,99.7 L526.4,98.3 L527.1,96.2 L527.8,93.7 L528.5,91.5 L529.3,89.9 L530.0,88.8 L530.7,88.1 L531.4,88.2 L532.1,89.0 L532.9,90.5 L533.6,92.3 L534.3,93.6 L535.0,93.9 L535.7,93.5 L536.5,92.9 L537.2,92.7 L537.9,93.2 L538.6,94.6 L539.3,96.1 L540.1,97.7 L540.8,99.0 L541.5,99.7 L542.2,100.1 L542.9,100.0 L543.7,99.7 L544.4,100.0 L545.1,101.1 L545.8,102.8 L546.5,104.4 L547.3,105.0 L548.0,105.1 L548.7,104.9 L549.4,105.4 L550.1,105.8 L550.9,105.4 L551.6,105.4 L552.3,105.8 L553.0,107.7 L553.7,109.7 L554.5,111.2 L555.2,112.0 L555.9,112.6 L556.6,113.7 L557.3,114.6 L558.1,115.7 L558.8,116.5 L559.5,117.5 L560.2,118.7 L560.9,119.6 L561.7,120.8 L562.4,121.9 L563.1,123.9 L563.8,125.9 L564.5,127.0 L565.3,127.9 L566.0,128.1 L566.7,128.7 L567.4,129.1 L568.1,130.0 L568.9,130.5 L569.6,131.3 L570.3,131.6 L571.0,132.0 L571.7,132.1 L572.5,132.3 L573.2,133.2 L573.9,133.1 L574.6,133.2 L575.3,132.8 L576.1,132.4 L576.8,132.4 L577.5,132.3 L578.2,132.6 L578.9,133.3 L579.7,134.2 L580.4,135.2 L581.1,135.7 L581.8,136.2 L582.5,136.8 L583.3,137.8 L584.0,139.0 L584.7,140.1 L585.4,141.4 L586.1,142.3 L586.9,142.9 L587.6,143.3 L588.3,143.1 L589.0,143.5 L589.7,143.9 L590.5,145.1 L591.2,146.6 L591.9,147.6 L592.6,148.8 L593.3,148.9 L594.1,148.7 L594.8,147.9 L595.5,147.4 L596.2,147.3 L596.9,147.4 L597.7,147.9 L598.4,149.1 L599.1,150.7 L599.8,152.2 L600.5,153.4 L601.3,153.7 L602.0,153.5 L602.7,153.2 L603.4,153.2 L604.1,153.3 L604.9,153.2 L605.6,153.3 L606.3,153.6 L607.0,153.8 L607.7,153.7 L608.5,152.4 L609.2,151.1 L609.9,150.3 L610.6,150.9 L611.3,152.3 L612.1,152.9 L612.8,152.3 L613.5,150.9 L614.2,149.2 L614.9,148.1 L615.7,147.0 L616.4,146.0 L617.1,145.6 L617.8,145.1 L618.5,145.9 L619.3,147.0 L620.0,148.2 L620.7,149.2 L621.4,148.9 L622.1,148.6 L622.9,147.2 L623.6,146.2 L624.3,145.4 L625.0,145.0 L625.7,145.6 L626.5,147.1 L627.2,149.1 L627.9,150.3 L628.6,150.2 L629.3,149.8 L630.1,149.8 L630.8,149.8 L631.5,150.2 L632.2,149.7 L632.9,149.5 L633.7,149.5 L634.4,150.0 L635.1,150.4 L635.8,150.4 L636.5,150.6 L637.3,151.5 L638.0,152.2 L638.7,152.3 L639.4,151.8 L640.1,150.9 L640.9,150.0 L641.6,149.5 L642.3,149.3 L643.0,150.2 L643.7,151.9 L644.5,153.9 L645.2,156.0 L645.9,157.4 L646.6,158.5 L647.3,159.3 L648.1,159.1 L648.8,158.2 L649.5,156.7" stroke="#e2181f"/>
<path d="M361.5,166.5 L362.2,168.1 L362.9,168.5 L363.7,168.6 L364.4,167.6 L365.1,166.7 L365.8,166.0 L366.5,165.4 L367.3,165.4 L368.0,165.0 L368.7,164.4 L369.4,163.5 L370.1,162.5 L370.9,162.9 L371.6,164.6 L372.3,167.3 L373.0,170.1 L373.7,171.9 L374.5,172.6 L375.2,172.5 L375.9,171.7 L376.6,171.3 L377.3,171.1 L378.1,171.4 L378.8,171.4 L379.5,171.1 L380.2,171.0 L380.9,171.2 L381.7,171.6 L382.4,172.2 L383.1,172.1 L383.8,171.3 L384.5,171.4 L385.3,171.4 L386.0,172.3 L386.7,172.6 L387.4,172.8 L388.1,172.7 L388.9,171.8 L389.6,171.0 L390.3,170.2 L391.0,169.4 L391.7,168.8 L392.5,167.7 L393.2,166.4 L393.9,165.2 L394.6,164.3 L395.3,164.1 L396.1,164.1 L396.8,164.6 L397.5,165.3 L398.2,165.8 L398.9,166.7 L399.7,167.4 L400.4,168.1 L401.1,168.7 L401.8,169.0 L402.5,168.7 L403.3,168.1 L404.0,167.3 L404.7,166.6 L405.4,166.3 L406.1,166.4 L406.9,167.1 L407.6,167.5 L408.3,168.0 L409.0,168.2 L409.7,167.7 L410.5,167.0 L411.2,166.1 L411.9,165.7 L412.6,165.7 L413.3,166.2 L414.1,167.5 L414.8,168.7 L415.5,170.0 L416.2,171.0 L416.9,171.4 L417.7,171.4 L418.4,170.8 L419.1,170.3 L419.8,170.7 L420.5,171.0 L421.3,171.6 L422.0,171.7 L422.7,171.1 L423.4,171.0 L424.1,170.1 L424.9,169.4 L425.6,167.9 L426.3,166.3 L427.0,165.7 L427.7,165.5 L428.5,167.4 L429.2,171.0 L429.9,175.2 L430.6,179.2 L431.3,184.0 L432.1,189.7 L432.8,194.7 L433.5,195.5 L434.2,192.1 L434.9,185.9 L435.7,178.8 L436.4,170.1 L437.1,159.0 L437.8,147.2 L438.5,136.5 L439.3,127.8 L440.0,119.3 L440.7,111.6 L441.4,105.1 L442.1,100.9 L442.9,97.9 L443.6,95.4 L444.3,93.7 L445.0,93.1 L445.7,93.8 L446.5,95.1 L447.2,96.9 L447.9,99.3 L448.6,104.0 L449.3,109.8 L450.1,115.7 L450.8,120.9 L451.5,126.2 L452.2,131.5 L452.9,136.6 L453.7,141.4 L454.4,147.1 L455.1,151.9 L455.8,156.0 L456.5,159.4 L457.3,162.2 L458.0,164.3 L458.7,166.2 L459.4,167.2 L460.1,168.0 L460.9,167.9 L461.6,168.4 L462.3,168.5 L463.0,168.4 L463.7,168.5 L464.5,168.7 L465.2,169.8 L465.9,170.7 L466.6,171.0 L467.3,170.9 L468.1,171.1 L468.8,171.4 L469.5,172.3 L470.2,172.6 L470.9,172.6 L471.7,172.7 L472.4,172.3 L473.1,172.2 L473.8,171.6 L474.5,171.3 L475.3,171.5 L476.0,172.5 L476.7,173.6 L477.4,174.3 L478.1,174.1 L478.9,173.3 L479.6,171.9 L480.3,170.4 L481.0,168.9 L481.7,167.3 L482.5,166.2 L483.2,165.9 L483.9,166.6 L484.6,167.7 L485.3,168.9 L486.1,168.5 L486.8,166.5 L487.5,164.0 L488.2,161.8 L488.9,160.2 L489.7,158.9 L490.4,157.9 L491.1,157.0 L491.8,155.6 L492.5,154.0 L493.3,152.0 L494.0,149.3 L494.7,146.7 L495.4,143.0 L496.1,139.8 L496.9,137.9 L497.6,138.0 L498.3,138.3 L499.0,138.0 L499.7,138.4 L500.5,138.6 L501.2,138.9 L501.9,138.3 L502.6,136.5 L503.3,134.0 L504.1,131.2 L504.8,128.6 L505.5,125.7 L506.2,123.4 L506.9,121.2 L507.7,119.5 L508.4,117.7 L509.1,115.6 L509.8,113.3 L510.5,110.6 L511.3,108.4 L512.0,106.6 L512.7,105.4 L513.4,104.5 L514.1,103.6 L514.9,102.5 L515.6,101.4 L516.3,100.5 L517.0,99.4 L517.7,97.5 L518.5,95.2 L519.2,92.7 L519.9,90.7 L520.6,89.5 L521.3,88.7 L522.1,87.6 L522.8,86.2 L523.5,84.9 L524.2,84.0 L524.9,83.9 L525.7,84.4 L526.4,85.5 L527.1,86.3 L527.8,86.3 L528.5,85.0 L529.3,83.0 L530.0,81.6 L530.7,81.2 L531.4,81.7 L532.1,81.8 L532.9,81.6 L533.6,81.4 L534.3,81.4 L535.0,82.5 L535.7,83.6 L536.5,85.4 L537.2,86.5 L537.9,87.8 L538.6,88.9 L539.3,89.7 L540.1,90.6 L540.8,91.5 L541.5,92.7 L542.2,93.8 L542.9,94.8 L543.7,95.0 L544.4,94.8 L545.1,94.5 L545.8,95.2 L546.5,96.5 L547.3,98.0 L548.0,99.7 L548.7,101.0 L549.4,101.4 L550.1,101.3 L550.9,101.1 L551.6,100.9 L552.3,101.0 L553.0,101.0 L553.7,101.0 L554.5,101.4 L555.2,102.4 L555.9,104.6 L556.6,106.4 L557.3,107.6 L558.1,107.7 L558.8,107.2 L559.5,107.1 L560.2,108.1 L560.9,110.6 L561.7,113.2 L562.4,115.2 L563.1,116.2 L563.8,117.1 L564.5,117.6 L565.3,117.9 L566.0,117.9 L566.7,117.4 L567.4,116.8 L568.1,116.2 L568.9,116.7 L569.6,117.5 L570.3,119.2 L571.0,121.3 L571.7,123.1 L572.5,124.9 L573.2,126.5 L573.9,128.4 L574.6,130.2 L575.3,132.2 L576.1,134.3 L576.8,136.2 L577.5,137.7 L578.2,139.1 L578.9,140.5 L579.7,141.9 L580.4,143.0 L581.1,143.6 L581.8,143.7 L582.5,143.3 L583.3,143.2 L584.0,143.3 L584.7,144.1 L585.4,145.1 L586.1,146.0 L586.9,146.6 L587.6,146.7 L588.3,146.9 L589.0,147.1 L589.7,147.4 L590.5,147.2 L591.2,146.9 L591.9,145.8 L592.6,145.0 L593.3,144.2 L594.1,143.4 L594.8,143.1 L595.5,142.9 L596.2,144.0 L596.9,145.0 L597.7,145.5 L598.4,145.4 L599.1,145.1 L599.8,145.0 L600.5,145.3 L601.3,146.1 L602.0,147.2 L602.7,148.6 L603.4,149.3 L604.1,149.1 L604.9,147.8 L605.6,146.5 L606.3,145.4 L607.0,145.1 L607.7,145.1 L608.5,145.4 L609.2,145.8 L609.9,145.4 L610.6,145.0 L611.3,144.1 L612.1,144.5 L612.8,145.6 L613.5,148.3 L614.2,150.4 L614.9,151.1 L615.7,150.2 L616.4,148.8 L617.1,147.6 L617.8,147.4 L618.5,147.9 L619.3,148.9 L620.0,150.5 L620.7,151.8 L621.4,153.2 L622.1,153.6 L622.9,154.4 L623.6,155.1 L624.3,156.3 L625.0,157.1 L625.7,158.3 L626.5,158.7 L627.2,159.2 L627.9,159.0 L628.6,158.3 L629.3,157.8 L630.1,157.2 L630.8,157.1 L631.5,156.8 L632.2,156.8 L632.9,156.7 L633.7,156.4 L634.4,155.9 L635.1,154.8 L635.8,153.9 L636.5,152.8 L637.3,152.6 L638.0,152.8 L638.7,152.8 L639.4,152.6 L640.1,151.6 L640.9,150.6 L641.6,150.5 L642.3,151.4 L643.0,153.0 L643.7,154.4 L644.5,155.6 L645.2,156.6 L645.9,157.1 L646.6,156.8 L647.3,155.5 L648.1,154.1 L648.8,153.1 L649.5,153.2" stroke="#2a9fd9"/>
<path d="M361.5,169.9 L362.2,169.6 L362.9,169.6 L363.7,170.4 L364.4,170.6 L365.1,170.0 L365.8,168.8 L366.5,167.2 L367.3,167.0 L368.0,167.5 L368.7,169.3 L369.4,170.6 L370.1,171.4 L370.9,171.7 L371.6,172.3 L372.3,173.1 L373.0,173.8 L373.7,174.2 L374.5,173.4 L375.2,172.3 L375.9,171.3 L376.6,170.4 L377.3,170.2 L378.1,169.9 L378.8,169.0 L379.5,168.2 L380.2,167.1 L380.9,165.8 L381.7,164.9 L382.4,164.5 L383.1,165.0 L383.8,165.2 L384.5,164.4 L385.3,163.6 L386.0,162.5 L386.7,163.0 L387.4,164.6 L388.1,166.7 L388.9,168.2 L389.6,169.1 L390.3,169.4 L391.0,169.1 L391.7,168.4 L392.5,167.3 L393.2,167.1 L393.9,167.2 L394.6,168.0 L395.3,169.0 L396.1,169.5 L396.8,169.5 L397.5,169.4 L398.2,169.4 L398.9,170.0 L399.7,169.9 L400.4,169.7 L401.1,168.6 L401.8,167.0 L402.5,165.7 L403.3,164.8 L404.0,164.6 L404.7,164.5 L405.4,165.1 L406.1,165.5 L406.9,165.9 L407.6,165.3 L408.3,164.9 L409.0,165.0 L409.7,166.3 L410.5,169.6 L411.2,172.9 L411.9,175.3 L412.6,175.8 L413.3,175.6 L414.1,174.8 L414.8,174.3 L415.5,173.7 L416.2,173.0 L416.9,172.2 L417.7,171.2 L418.4,171.3 L419.1,171.1 L419.8,171.3 L420.5,170.9 L421.3,170.4 L422.0,169.1 L422.7,167.6 L423.4,166.0 L424.1,164.8 L424.9,163.9 L425.6,163.0 L426.3,163.1 L427.0,163.7 L427.7,166.2 L428.5,169.4 L429.2,173.4 L429.9,177.7 L430.6,181.5 L431.3,186.0 L432.1,191.3 L432.8,194.3 L433.5,196.2 L434.2,193.3 L434.9,186.4 L435.7,178.1 L436.4,169.4 L437.1,158.5 L437.8,146.8 L438.5,136.0 L439.3,127.2 L440.0,118.7 L440.7,110.8 L441.4,104.1 L442.1,99.3 L442.9,95.7 L443.6,92.6 L444.3,90.5 L445.0,89.9 L445.7,90.4 L446.5,91.3 L447.2,92.3 L447.9,94.0 L448.6,98.2 L449.3,103.6 L450.1,109.3 L450.8,114.1 L451.5,119.1 L452.2,124.1 L452.9,129.0 L453.7,133.6 L454.4,136.3 L455.1,140.8 L455.8,145.5 L456.5,150.1 L457.3,153.3 L458.0,154.8 L458.7,155.7 L459.4,157.0 L460.1,158.6 L460.9,160.0 L461.6,160.6 L462.3,160.0 L463.0,158.3 L463.7,155.6 L464.5,153.4 L465.2,151.2 L465.9,149.4 L466.6,148.0 L467.3,146.7 L468.1,145.8 L468.8,144.5 L469.5,143.6 L470.2,142.5 L470.9,141.7 L471.7,140.9 L472.4,140.3 L473.1,139.4 L473.8,137.8 L474.5,136.5 L475.3,134.7 L476.0,133.6 L476.7,132.6 L477.4,132.5 L478.1,133.0 L478.9,133.5 L479.6,134.0 L480.3,133.8 L481.0,133.8 L481.7,133.6 L482.5,133.1 L483.2,132.1 L483.9,131.2 L484.6,130.7 L485.3,130.6 L486.1,130.3 L486.8,129.3 L487.5,128.8 L488.2,128.7 L488.9,129.6 L489.7,129.9 L490.4,129.0 L491.1,127.6 L491.8,126.4 L492.5,126.4 L493.3,127.1 L494.0,127.6 L494.7,127.8 L495.4,127.5 L496.1,127.1 L496.9,121.0 L497.6,120.8 L498.3,121.0 L499.0,119.9 L499.7,119.5 L500.5,120.3 L501.2,122.7 L501.9,124.4 L502.6,124.5 L503.3,123.2 L504.1,122.0 L504.8,121.0 L505.5,119.7 L506.2,117.6 L506.9,115.0 L507.7,112.4 L508.4,110.0 L509.1,108.2 L509.8,107.1 L510.5,107.2 L511.3,107.2 L512.0,106.5 L512.7,104.9 L513.4,103.0 L514.1,101.9 L514.9,101.7 L515.6,101.8 L516.3,102.2 L517.0,102.0 L517.7,101.0 L518.5,99.3 L519.2,96.9 L519.9,95.0 L520.6,94.0 L521.3,93.8 L522.1,94.0 L522.8,93.8 L523.5,93.7 L524.2,93.2 L524.9,92.9 L525.7,92.1 L526.4,91.1 L527.1,89.9 L527.8,88.4 L528.5,87.7 L529.3,87.4 L530.0,88.0 L530.7,88.7 L531.4,89.2 L532.1,89.4 L532.9,89.4 L533.6,89.3 L534.3,89.0 L535.0,88.7 L535.7,88.0 L536.5,87.2 L537.2,86.3 L537.9,86.0 L538.6,86.5 L539.3,87.9 L540.1,89.4 L540.8,90.6 L541.5,91.2 L542.2,91.9 L542.9,93.8 L543.7,96.0 L544.4,98.4 L545.1,99.9 L545.8,100.8 L546.5,101.6 L547.3,102.8 L548.0,104.4 L548.7,106.0 L549.4,106.6 L550.1,106.8 L550.9,106.3 L551.6,106.3 L552.3,106.3 L553.0,106.3 L553.7,106.4 L554.5,106.6 L555.2,107.4 L555.9,108.0 L556.6,109.0 L557.3,109.9 L558.1,111.0 L558.8,112.6 L559.5,114.4 L560.2,116.2 L560.9,117.3 L561.7,117.3 L562.4,116.6 L563.1,115.3 L563.8,114.9 L564.5,115.3 L565.3,116.8 L566.0,119.0 L566.7,121.2 L567.4,122.7 L568.1,123.2 L568.9,123.4 L569.6,124.2 L570.3,125.5 L571.0,126.7 L571.7,127.4 L572.5,127.4 L573.2,127.1 L573.9,126.6 L574.6,126.4 L575.3,126.1 L576.1,126.4 L576.8,127.3 L577.5,128.7 L578.2,129.4 L578.9,129.1 L579.7,128.4 L580.4,127.4 L581.1,127.5 L581.8,128.1 L582.5,128.7 L583.3,128.9 L584.0,128.9 L584.7,129.6 L585.4,131.0 L586.1,133.2 L586.9,135.0 L587.6,136.3 L588.3,136.7 L589.0,136.5 L589.7,136.7 L590.5,137.1 L591.2,137.9 L591.9,138.4 L592.6,138.6 L593.3,138.8 L594.1,139.1 L594.8,139.3 L595.5,139.2 L596.2,139.1 L596.9,139.1 L597.7,139.5 L598.4,139.4 L599.1,139.5 L599.8,139.8 L600.5,140.3 L601.3,141.2 L602.0,141.7 L602.7,142.2 L603.4,143.2 L604.1,143.8 L604.9,144.6 L605.6,144.4 L606.3,143.8 L607.0,143.3 L607.7,142.7 L608.5,142.5 L609.2,142.3 L609.9,142.7 L610.6,143.1 L611.3,144.2 L612.1,145.2 L612.8,145.8 L613.5,145.9 L614.2,145.2 L614.9,144.7 L615.7,144.4 L616.4,145.1 L617.1,145.9 L617.8,146.2 L618.5,145.9 L619.3,145.0 L620.0,144.7 L620.7,144.7 L621.4,145.6 L622.1,146.8 L622.9,147.6 L623.6,147.9 L624.3,147.0 L625.0,145.6 L625.7,144.6 L626.5,144.3 L627.2,144.8 L627.9,145.1 L628.6,144.8 L629.3,144.3 L630.1,143.7 L630.8,143.5 L631.5,142.8 L632.2,142.0 L632.9,140.9 L633.7,140.5 L634.4,140.9 L635.1,141.2 L635.8,142.0 L636.5,142.2 L637.3,142.5 L638.0,142.3 L638.7,141.7 L639.4,141.7 L640.1,142.4 L640.9,143.6 L641.6,145.7 L642.3,147.3 L643.0,148.0 L643.7,147.9 L644.5,146.5 L645.2,145.4 L645.9,145.0 L646.6,145.6 L647.3,147.4 L648.1,148.6 L648.8,149.5 L649.5,149.7" stroke="#10a24c"/>
<path d="M36.0,428.0 L36.7,427.4 L37.4,427.4 L38.1,427.0 L38.8,426.8 L39.5,426.1 L40.2,425.8 L41.0,425.9 L41.7,426.2 L42.4,426.7 L43.1,426.9 L43.8,427.3 L44.5,427.5 L45.2,427.8 L45.9,427.7 L46.6,427.4 L47.4,427.2 L48.1,427.2 L48.8,427.5 L49.5,428.2 L50.2,428.7 L50.9,429.1 L51.6,429.1 L52.3,429.1 L53.1,429.3 L53.8,429.0 L54.5,428.6 L55.2,428.1 L55.9,427.8 L56.6,427.7 L57.3,428.0 L58.0,428.2 L58.7,428.6 L59.5,429.0 L60.2,429.0 L60.9,428.8 L61.6,428.0 L62.3,427.7 L63.0,428.0 L63.7,428.9 L64.4,430.0 L65.1,430.4 L65.9,430.4 L66.6,430.0 L67.3,429.5 L68.0,429.3 L68.7,428.8 L69.4,428.3 L70.1,427.8 L70.8,427.3 L71.5,427.3 L72.3,427.3 L73.0,427.2 L73.7,427.1 L74.4,426.4 L75.1,425.8 L75.8,425.4 L76.5,425.7 L77.2,426.5 L77.9,427.5 L78.7,428.2 L79.4,428.4 L80.1,428.4 L80.8,428.7 L81.5,429.2 L82.2,429.5 L82.9,429.9 L83.6,430.5 L84.3,431.5 L85.1,432.7 L85.8,433.6 L86.5,433.9 L87.2,433.7 L87.9,433.4 L88.6,433.8 L89.3,434.7 L90.0,435.9 L90.8,436.8 L91.5,437.3 L92.2,437.2 L92.9,437.0 L93.6,437.0 L94.3,437.4 L95.0,437.6 L95.7,437.9 L96.4,437.6 L97.2,436.8 L97.9,435.5 L98.6,434.2 L99.3,432.3 L100.0,429.4 L100.7,426.8 L101.4,426.4 L102.1,427.4 L102.8,429.2 L103.6,431.6 L104.3,433.7 L105.0,436.0 L105.7,438.3 L106.4,438.4 L107.1,438.9 L107.8,437.0 L108.5,432.6 L109.2,427.2 L110.0,421.5 L110.7,414.0 L111.4,405.9 L112.1,398.2 L112.8,391.4 L113.5,384.5 L114.2,378.7 L114.9,374.9 L115.6,372.1 L116.4,371.0 L117.1,371.7 L117.8,373.4 L118.5,375.6 L119.2,378.1 L119.9,381.9 L120.6,386.8 L121.3,392.0 L122.0,396.7 L122.8,401.4 L123.5,406.1 L124.2,410.2 L124.9,413.3 L125.6,415.7 L126.3,417.7 L127.0,419.0 L127.7,419.5 L128.4,417.8 L129.2,415.1 L129.9,412.3 L130.6,410.0 L131.3,407.6 L132.0,405.1 L132.7,402.2 L133.4,399.5 L134.1,397.0 L134.9,394.6 L135.6,392.5 L136.3,389.9 L137.0,387.3 L137.7,384.6 L138.4,382.3 L139.1,381.4 L139.8,380.5 L140.5,379.7 L141.3,378.8 L142.0,377.8 L142.7,377.6 L143.4,377.6 L144.1,377.9 L144.8,378.4 L145.5,378.9 L146.2,379.0 L146.9,377.7 L147.7,376.0 L148.4,374.2 L149.1,373.2 L149.8,372.4 L150.5,371.4 L151.2,370.6 L151.9,369.3 L152.6,368.4 L153.3,367.7 L154.1,367.5 L154.8,367.4 L155.5,367.4 L156.2,367.1 L156.9,367.1 L157.6,366.8 L158.3,366.6 L159.0,365.9 L159.7,364.2 L160.5,362.6 L161.2,360.9 L161.9,359.8 L162.6,359.2 L163.3,358.4 L164.0,357.8 L164.7,357.5 L165.4,357.6 L166.1,358.0 L166.9,357.8 L167.6,357.5 L168.3,357.1 L169.0,357.1 L169.7,357.8 L170.4,358.7 L171.1,359.5 L171.8,360.3 L172.5,361.5 L173.3,363.1 L174.0,365.6 L174.7,368.2 L175.4,370.5 L176.1,371.6 L176.8,371.5 L177.5,370.6 L178.2,369.7 L179.0,369.2 L179.7,368.3 L180.4,367.5 L181.1,364.7 L181.8,361.5 L182.5,358.4 L183.2,355.5 L183.9,353.3 L184.6,351.3 L185.4,349.8 L186.1,348.9 L186.8,347.3 L187.5,345.2 L188.2,342.5 L188.9,339.7 L189.6,337.8 L190.3,336.0 L191.0,334.8 L191.8,333.8 L192.5,333.4 L193.2,333.1 L193.9,333.2 L194.6,332.9 L195.3,332.2 L196.0,331.1 L196.7,330.2 L197.4,329.8 L198.2,329.3 L198.9,328.6 L199.6,327.5 L200.3,326.3 L201.0,325.5 L201.7,325.3 L202.4,325.5 L203.1,325.9 L203.8,326.8 L204.6,328.0 L205.3,329.5 L206.0,330.6 L206.7,331.2 L207.4,331.5 L208.1,331.6 L208.8,332.2 L209.5,332.7 L210.2,333.3 L211.0,333.6 L211.7,333.9 L212.4,334.8 L213.1,336.3 L213.8,338.4 L214.5,340.1 L215.2,341.6 L215.9,342.6 L216.7,343.5 L217.4,344.2 L218.1,345.4 L218.8,346.8 L219.5,348.7 L220.2,350.7 L220.9,352.3 L221.6,353.5 L222.3,354.1 L223.1,355.1 L223.8,355.8 L224.5,356.8 L225.2,357.5 L225.9,358.4 L226.6,359.1 L227.3,359.8 L228.0,360.8 L228.7,361.9 L229.5,363.4 L230.2,364.4 L230.9,364.9 L231.6,364.9 L232.3,364.8 L233.0,365.4 L233.7,366.5 L234.4,367.6 L235.1,368.3 L235.9,368.8 L236.6,370.1 L237.3,372.0 L238.0,373.8 L238.7,375.2 L239.4,376.2 L240.1,376.6 L240.8,377.2 L241.5,377.7 L242.3,378.5 L243.0,379.7 L243.7,381.1 L244.4,382.5 L245.1,383.0 L245.8,383.5 L246.5,383.8 L247.2,384.3 L247.9,384.8 L248.7,385.0 L249.4,385.4 L250.1,385.9 L250.8,386.8 L251.5,387.5 L252.2,388.2 L252.9,388.5 L253.6,389.0 L254.3,389.6 L255.1,390.6 L255.8,391.6 L256.5,392.4 L257.2,393.3 L257.9,393.9 L258.6,394.6 L259.3,395.1 L260.0,395.7 L260.8,396.3 L261.5,397.1 L262.2,397.7 L262.9,398.0 L263.6,398.0 L264.3,397.6 L265.0,397.9 L265.7,398.6 L266.4,399.7 L267.2,400.3 L267.9,400.3 L268.6,400.4 L269.3,400.5 L270.0,401.0 L270.7,401.8 L271.4,402.8 L272.1,403.8 L272.8,404.7 L273.6,405.5 L274.3,405.9 L275.0,406.1 L275.7,406.3 L276.4,406.6 L277.1,406.4 L277.8,406.5 L278.5,406.9 L279.2,407.7 L280.0,408.4 L280.7,408.6 L281.4,408.7 L282.1,408.6 L282.8,408.9 L283.5,409.3 L284.2,409.4 L284.9,409.5 L285.6,409.6 L286.4,409.9 L287.1,410.3 L287.8,410.6 L288.5,410.7 L289.2,410.9 L289.9,410.9 L290.6,411.2 L291.3,411.0 L292.0,411.1 L292.8,411.3 L293.5,411.6 L294.2,412.5 L294.9,413.1 L295.6,413.7 L296.3,413.8 L297.0,413.8 L297.7,413.8 L298.4,413.7 L299.2,413.8 L299.9,414.1 L300.6,414.8 L301.3,415.6 L302.0,416.4 L302.7,417.5 L303.4,417.9 L304.1,418.2 L304.9,417.6 L305.6,416.6 L306.3,415.1 L307.0,413.8 L307.7,413.4 L308.4,413.4 L309.1,413.7 L309.8,414.2 L310.5,415.0 L311.3,415.7 L312.0,416.9 L312.7,417.8 L313.4,418.5 L314.1,418.7 L314.8,418.6 L315.5,419.1 L316.2,419.6 L316.9,420.8 L317.7,421.7 L318.4,421.9 L319.1,421.9 L319.8,421.2 L320.5,420.7" stroke="#0a0a0a"/>
<path d="M36.0,423.7 L36.7,426.0 L37.4,427.7 L38.1,428.7 L38.8,428.4 L39.5,427.7 L40.2,426.7 L41.0,426.0 L41.7,425.7 L42.4,425.5 L43.1,425.6 L43.8,425.7 L44.5,426.3 L45.2,427.1 L45.9,428.0 L46.6,428.8 L47.4,429.3 L48.1,429.6 L48.8,429.9 L49.5,429.7 L50.2,429.3 L50.9,428.8 L51.6,428.3 L52.3,428.3 L53.1,428.5 L53.8,428.5 L54.5,428.1 L55.2,427.0 L55.9,426.1 L56.6,425.8 L57.3,426.4 L58.0,427.4 L58.7,428.1 L59.5,428.2 L60.2,427.7 L60.9,427.5 L61.6,427.2 L62.3,427.7 L63.0,428.7 L63.7,430.0 L64.4,431.0 L65.1,431.2 L65.9,430.7 L66.6,430.3 L67.3,430.9 L68.0,432.5 L68.7,434.0 L69.4,434.7 L70.1,434.7 L70.8,434.0 L71.5,433.7 L72.3,433.4 L73.0,433.4 L73.7,433.1 L74.4,432.9 L75.1,432.6 L75.8,432.1 L76.5,431.8 L77.2,431.3 L77.9,431.2 L78.7,430.8 L79.4,430.8 L80.1,430.7 L80.8,430.9 L81.5,431.1 L82.2,431.1 L82.9,431.2 L83.6,430.9 L84.3,430.7 L85.1,430.6 L85.8,431.1 L86.5,432.7 L87.2,434.4 L87.9,435.7 L88.6,436.0 L89.3,435.3 L90.0,434.9 L90.8,435.2 L91.5,436.0 L92.2,437.1 L92.9,437.7 L93.6,438.0 L94.3,437.9 L95.0,437.4 L95.7,437.1 L96.4,436.3 L97.2,435.4 L97.9,434.6 L98.6,433.9 L99.3,433.2 L100.0,431.0 L100.7,428.7 L101.4,427.5 L102.1,427.6 L102.8,428.9 L103.6,430.5 L104.3,432.2 L105.0,434.2 L105.7,436.5 L106.4,438.0 L107.1,438.6 L107.8,436.9 L108.5,432.8 L109.2,427.7 L110.0,422.1 L110.7,414.1 L111.4,405.1 L112.1,396.4 L112.8,389.1 L113.5,382.0 L114.2,376.0 L114.9,371.8 L115.6,368.5 L116.4,366.9 L117.1,367.7 L117.8,369.6 L118.5,372.2 L119.2,375.3 L119.9,380.1 L120.6,385.5 L121.3,390.7 L122.0,395.1 L122.8,399.6 L123.5,404.0 L124.2,407.4 L124.9,409.7 L125.6,411.3 L126.3,412.7 L127.0,413.6 L127.7,412.1 L128.4,411.9 L129.2,410.3 L129.9,407.8 L130.6,405.2 L131.3,402.7 L132.0,400.2 L132.7,397.5 L133.4,394.8 L134.1,392.0 L134.9,388.6 L135.6,385.3 L136.3,382.6 L137.0,380.5 L137.7,378.5 L138.4,376.8 L139.1,374.7 L139.8,372.8 L140.5,371.8 L141.3,371.6 L142.0,371.8 L142.7,371.9 L143.4,372.2 L144.1,372.0 L144.8,371.6 L145.5,370.6 L146.2,369.4 L146.9,368.1 L147.7,366.6 L148.4,365.5 L149.1,364.1 L149.8,362.4 L150.5,360.2 L151.2,357.8 L151.9,355.6 L152.6,353.7 L153.3,352.7 L154.1,352.2 L154.8,352.6 L155.5,353.1 L156.2,353.5 L156.9,353.9 L157.6,353.3 L158.3,353.0 L159.0,352.5 L159.7,352.4 L160.5,352.7 L161.2,352.4 L161.9,352.0 L162.6,350.9 L163.3,350.0 L164.0,349.6 L164.7,350.5 L165.4,352.1 L166.1,353.9 L166.9,355.8 L167.6,356.6 L168.3,356.4 L169.0,354.3 L169.7,352.5 L170.4,352.1 L171.1,352.9 L171.8,354.5 L172.5,356.0 L173.3,357.1 L174.0,357.8 L174.7,359.1 L175.4,360.8 L176.1,362.3 L176.8,363.1 L177.5,363.0 L178.2,362.5 L179.0,362.5 L179.7,362.3 L180.4,362.0 L181.1,359.4 L181.8,355.7 L182.5,351.6 L183.2,347.6 L183.9,344.7 L184.6,341.5 L185.4,338.5 L186.1,335.6 L186.8,332.8 L187.5,330.8 L188.2,328.6 L188.9,326.8 L189.6,325.1 L190.3,323.2 L191.0,321.9 L191.8,320.3 L192.5,318.5 L193.2,316.5 L193.9,314.5 L194.6,313.2 L195.3,312.2 L196.0,311.6 L196.7,310.7 L197.4,309.8 L198.2,309.2 L198.9,308.9 L199.6,309.2 L200.3,309.6 L201.0,310.9 L201.7,311.9 L202.4,312.7 L203.1,313.0 L203.8,312.8 L204.6,312.5 L205.3,311.8 L206.0,311.4 L206.7,311.0 L207.4,310.8 L208.1,311.8 L208.8,313.3 L209.5,315.2 L210.2,317.0 L211.0,318.5 L211.7,319.8 L212.4,320.9 L213.1,321.7 L213.8,322.2 L214.5,322.3 L215.2,322.0 L215.9,321.7 L216.7,321.8 L217.4,322.4 L218.1,323.3 L218.8,323.9 L219.5,325.5 L220.2,327.1 L220.9,328.8 L221.6,330.6 L222.3,331.9 L223.1,333.9 L223.8,336.0 L224.5,338.4 L225.2,340.1 L225.9,341.4 L226.6,342.8 L227.3,344.2 L228.0,345.9 L228.7,347.5 L229.5,348.8 L230.2,349.6 L230.9,350.4 L231.6,351.3 L232.3,352.4 L233.0,353.6 L233.7,354.9 L234.4,355.9 L235.1,356.8 L235.9,357.5 L236.6,357.9 L237.3,358.7 L238.0,359.8 L238.7,361.6 L239.4,363.9 L240.1,366.1 L240.8,368.0 L241.5,369.3 L242.3,370.7 L243.0,372.4 L243.7,373.8 L244.4,375.2 L245.1,376.1 L245.8,377.3 L246.5,378.8 L247.2,380.1 L247.9,381.6 L248.7,382.1 L249.4,383.4 L250.1,384.8 L250.8,386.9 L251.5,388.6 L252.2,389.0 L252.9,388.3 L253.6,386.5 L254.3,384.8 L255.1,383.9 L255.8,384.1 L256.5,385.4 L257.2,387.2 L257.9,389.1 L258.6,390.9 L259.3,392.5 L260.0,394.0 L260.8,394.6 L261.5,395.5 L262.2,396.7 L262.9,398.3 L263.6,399.7 L264.3,400.1 L265.0,400.4 L265.7,400.7 L266.4,401.3 L267.2,402.3 L267.9,403.8 L268.6,405.0 L269.3,406.1 L270.0,406.2 L270.7,405.3 L271.4,403.9 L272.1,402.2 L272.8,401.4 L273.6,400.9 L274.3,400.4 L275.0,400.2 L275.7,399.5 L276.4,398.6 L277.1,397.5 L277.8,396.7 L278.5,396.7 L279.2,397.2 L280.0,397.9 L280.7,398.6 L281.4,399.4 L282.1,400.8 L282.8,402.6 L283.5,404.9 L284.2,407.1 L284.9,409.0 L285.6,410.3 L286.4,410.6 L287.1,410.9 L287.8,410.1 L288.5,409.9 L289.2,409.7 L289.9,409.5 L290.6,409.7 L291.3,409.4 L292.0,409.3 L292.8,408.6 L293.5,408.3 L294.2,408.1 L294.9,407.7 L295.6,407.3 L296.3,406.6 L297.0,405.9 L297.7,405.6 L298.4,406.2 L299.2,407.3 L299.9,408.0 L300.6,407.8 L301.3,406.6 L302.0,405.2 L302.7,404.5 L303.4,405.0 L304.1,406.3 L304.9,407.6 L305.6,408.8 L306.3,409.8 L307.0,410.7 L307.7,411.4 L308.4,412.7 L309.1,414.3 L309.8,416.2 L310.5,417.6 L311.3,417.9 L312.0,417.5 L312.7,415.9 L313.4,414.3 L314.1,412.9 L314.8,412.2 L315.5,412.0 L316.2,412.6 L316.9,413.5 L317.7,414.5 L318.4,415.3 L319.1,415.4 L319.8,415.4 L320.5,415.2" stroke="#e2181f"/>
<path d="M36.0,426.0 L36.7,425.8 L37.4,426.0 L38.1,426.6 L38.8,427.1 L39.5,427.3 L40.2,427.4 L41.0,427.8 L41.7,428.7 L42.4,429.2 L43.1,429.2 L43.8,428.1 L44.5,426.8 L45.2,426.0 L45.9,425.8 L46.6,426.0 L47.4,426.4 L48.1,426.8 L48.8,427.0 L49.5,427.3 L50.2,427.1 L50.9,427.2 L51.6,427.5 L52.3,428.2 L53.1,429.0 L53.8,429.2 L54.5,430.2 L55.2,432.3 L55.9,433.6 L56.6,433.2 L57.3,432.0 L58.0,431.2 L58.7,431.4 L59.5,432.1 L60.2,433.2 L60.9,433.8 L61.6,434.2 L62.3,433.8 L63.0,432.7 L63.7,431.7 L64.4,431.4 L65.1,431.8 L65.9,432.6 L66.6,433.4 L67.3,433.3 L68.0,432.9 L68.7,431.7 L69.4,430.9 L70.1,430.6 L70.8,430.6 L71.5,430.7 L72.3,430.9 L73.0,431.6 L73.7,432.2 L74.4,432.6 L75.1,432.6 L75.8,432.7 L76.5,433.1 L77.2,433.8 L77.9,434.4 L78.7,435.2 L79.4,436.3 L80.1,437.8 L80.8,439.5 L81.5,441.4 L82.2,443.2 L82.9,444.0 L83.6,443.1 L84.3,441.1 L85.1,438.9 L85.8,437.8 L86.5,437.2 L87.2,437.2 L87.9,437.2 L88.6,437.0 L89.3,437.1 L90.0,437.2 L90.8,437.1 L91.5,436.9 L92.2,436.5 L92.9,436.4 L93.6,436.5 L94.3,436.6 L95.0,436.3 L95.7,435.3 L96.4,434.0 L97.2,431.9 L97.9,429.9 L98.6,428.1 L99.3,426.1 L100.0,423.7 L100.7,421.9 L101.4,421.9 L102.1,424.0 L102.8,427.2 L103.6,430.3 L104.3,432.8 L105.0,435.3 L105.7,438.0 L106.4,439.8 L107.1,440.7 L107.8,439.0 L108.5,434.7 L109.2,429.0 L110.0,422.5 L110.7,413.3 L111.4,403.7 L112.1,395.9 L112.8,389.0 L113.5,383.1 L114.2,379.4 L114.9,377.2 L115.6,375.8 L116.4,375.9 L117.1,377.6 L117.8,380.3 L118.5,383.3 L119.2,387.3 L119.9,392.5 L120.6,398.1 L121.3,403.1 L122.0,407.9 L122.8,412.7 L123.5,417.1 L124.2,420.5 L124.9,423.0 L125.6,425.2 L126.3,427.2 L127.0,428.6 L127.7,429.3 L128.4,428.1 L129.2,425.2 L129.9,421.2 L130.6,417.6 L131.3,414.0 L132.0,410.8 L132.7,408.2 L133.4,405.9 L134.1,404.3 L134.9,402.6 L135.6,400.9 L136.3,399.8 L137.0,399.0 L137.7,397.7 L138.4,396.5 L139.1,395.1 L139.8,394.8 L140.5,395.3 L141.3,396.0 L142.0,396.4 L142.7,395.7 L143.4,395.1 L144.1,394.8 L144.8,394.8 L145.5,394.8 L146.2,394.8 L146.9,395.0 L147.7,394.6 L148.4,393.9 L149.1,392.9 L149.8,391.8 L150.5,391.1 L151.2,390.2 L151.9,388.6 L152.6,386.5 L153.3,384.4 L154.1,383.5 L154.8,383.4 L155.5,383.9 L156.2,384.0 L156.9,383.2 L157.6,381.8 L158.3,380.3 L159.0,379.5 L159.7,378.8 L160.5,378.5 L161.2,377.6 L161.9,376.1 L162.6,374.7 L163.3,373.6 L164.0,373.4 L164.7,373.9 L165.4,374.3 L166.1,374.7 L166.9,374.2 L167.6,374.3 L168.3,373.6 L169.0,372.1 L169.7,370.8 L170.4,370.5 L171.1,372.0 L171.8,373.4 L172.5,374.8 L173.3,376.1 L174.0,377.9 L174.7,380.2 L175.4,381.8 L176.1,382.3 L176.8,381.8 L177.5,380.8 L178.2,379.9 L179.0,379.1 L179.7,378.6 L180.4,377.8 L181.1,376.4 L181.8,374.5 L182.5,372.1 L183.2,369.3 L183.9,365.6 L184.6,362.1 L185.4,358.9 L186.1,356.4 L186.8,354.3 L187.5,352.2 L188.2,350.7 L188.9,349.0 L189.6,347.5 L190.3,345.7 L191.0,343.9 L191.8,342.5 L192.5,341.3 L193.2,340.6 L193.9,339.8 L194.6,339.2 L195.3,338.4 L196.0,337.3 L196.7,336.2 L197.4,335.6 L198.2,334.8 L198.9,334.4 L199.6,333.6 L200.3,332.7 L201.0,330.9 L201.7,331.0 L202.4,332.5 L203.1,333.6 L203.8,333.6 L204.6,333.6 L205.3,333.6 L206.0,333.4 L206.7,332.6 L207.4,332.1 L208.1,332.2 L208.8,333.3 L209.5,334.8 L210.2,335.8 L211.0,336.4 L211.7,336.6 L212.4,337.1 L213.1,338.0 L213.8,339.5 L214.5,341.0 L215.2,342.2 L215.9,343.0 L216.7,343.9 L217.4,345.7 L218.1,348.0 L218.8,350.9 L219.5,353.4 L220.2,355.3 L220.9,356.5 L221.6,357.0 L222.3,357.8 L223.1,358.8 L223.8,360.8 L224.5,363.0 L225.2,365.4 L225.9,367.2 L226.6,368.5 L227.3,369.6 L228.0,370.8 L228.7,372.6 L229.5,374.3 L230.2,375.6 L230.9,376.4 L231.6,376.5 L232.3,376.4 L233.0,376.9 L233.7,377.6 L234.4,378.5 L235.1,379.5 L235.9,380.1 L236.6,380.7 L237.3,381.3 L238.0,382.2 L238.7,383.6 L239.4,385.2 L240.1,386.8 L240.8,388.6 L241.5,389.9 L242.3,391.0 L243.0,392.5 L243.7,393.9 L244.4,395.3 L245.1,396.1 L245.8,396.7 L246.5,397.4 L247.2,398.1 L247.9,399.1 L248.7,400.1 L249.4,401.0 L250.1,402.0 L250.8,402.7 L251.5,403.6 L252.2,404.2 L252.9,404.9 L253.6,405.3 L254.3,405.3 L255.1,405.6 L255.8,406.4 L256.5,408.1 L257.2,409.7 L257.9,410.9 L258.6,411.7 L259.3,412.1 L260.0,412.3 L260.8,412.2 L261.5,411.6 L262.2,410.9 L262.9,410.4 L263.6,410.6 L264.3,411.3 L265.0,412.4 L265.7,413.4 L266.4,414.0 L267.2,414.7 L267.9,415.0 L268.6,415.7 L269.3,416.5 L270.0,417.3 L270.7,418.0 L271.4,418.4 L272.1,418.1 L272.8,417.4 L273.6,416.6 L274.3,415.8 L275.0,414.8 L275.7,412.8 L276.4,410.1 L277.1,407.8 L277.8,406.2 L278.5,406.1 L279.2,406.7 L280.0,407.3 L280.7,407.9 L281.4,408.0 L282.1,408.1 L282.8,408.7 L283.5,410.2 L284.2,412.3 L284.9,414.5 L285.6,416.2 L286.4,417.7 L287.1,419.3 L287.8,420.7 L288.5,421.6 L289.2,421.6 L289.9,420.7 L290.6,419.4 L291.3,418.2 L292.0,417.5 L292.8,417.2 L293.5,416.6 L294.2,415.8 L294.9,415.1 L295.6,414.8 L296.3,415.5 L297.0,416.2 L297.7,416.7 L298.4,416.8 L299.2,416.4 L299.9,416.1 L300.6,415.9 L301.3,416.0 L302.0,416.7 L302.7,417.4 L303.4,418.3 L304.1,419.6 L304.9,420.9 L305.6,422.2 L306.3,423.2 L307.0,424.3 L307.7,425.8 L308.4,427.5 L309.1,428.9 L309.8,429.5 L310.5,429.6 L311.3,429.9 L312.0,430.7 L312.7,431.8 L313.4,432.4 L314.1,432.1 L314.8,431.2 L315.5,430.5 L316.2,430.3 L316.9,430.7 L317.7,431.7 L318.4,432.5 L319.1,432.5 L319.8,431.9 L320.5,431.1" stroke="#2a9fd9"/>
<path d="M36.0,427.8 L36.7,429.1 L37.4,430.6 L38.1,431.5 L38.8,432.3 L39.5,432.2 L40.2,431.4 L41.0,430.3 L41.7,429.4 L42.4,429.5 L43.1,429.7 L43.8,430.0 L44.5,429.6 L45.2,428.9 L45.9,428.2 L46.6,427.7 L47.4,427.4 L48.1,427.2 L48.8,427.4 L49.5,427.7 L50.2,428.3 L50.9,429.1 L51.6,429.6 L52.3,429.7 L53.1,429.8 L53.8,429.9 L54.5,429.7 L55.2,429.9 L55.9,429.7 L56.6,429.5 L57.3,429.3 L58.0,429.1 L58.7,429.2 L59.5,428.5 L60.2,427.9 L60.9,427.2 L61.6,426.6 L62.3,426.8 L63.0,427.1 L63.7,427.2 L64.4,427.2 L65.1,426.7 L65.9,426.4 L66.6,426.2 L67.3,426.0 L68.0,426.0 L68.7,426.2 L69.4,426.7 L70.1,427.2 L70.8,427.8 L71.5,427.8 L72.3,428.2 L73.0,428.8 L73.7,429.7 L74.4,430.7 L75.1,430.9 L75.8,431.0 L76.5,430.1 L77.2,429.6 L77.9,429.7 L78.7,429.8 L79.4,430.5 L80.1,430.2 L80.8,430.2 L81.5,430.0 L82.2,430.0 L82.9,430.5 L83.6,430.9 L84.3,432.0 L85.1,432.9 L85.8,433.5 L86.5,433.4 L87.2,433.2 L87.9,433.2 L88.6,433.6 L89.3,434.6 L90.0,435.2 L90.8,435.7 L91.5,436.2 L92.2,436.6 L92.9,436.9 L93.6,436.4 L94.3,435.9 L95.0,435.4 L95.7,435.2 L96.4,435.0 L97.2,434.2 L97.9,433.2 L98.6,432.0 L99.3,431.1 L100.0,429.8 L100.7,428.6 L101.4,428.3 L102.1,429.1 L102.8,430.3 L103.6,431.6 L104.3,432.4 L105.0,433.2 L105.7,434.3 L106.4,436.7 L107.1,437.3 L107.8,435.9 L108.5,432.0 L109.2,426.9 L110.0,421.1 L110.7,413.1 L111.4,404.1 L112.1,395.4 L112.8,387.9 L113.5,380.2 L114.2,373.9 L114.9,370.0 L115.6,367.1 L116.4,365.3 L117.1,365.6 L117.8,367.5 L118.5,370.2 L119.2,373.2 L119.9,377.2 L120.6,382.1 L121.3,387.1 L122.0,391.5 L122.8,395.8 L123.5,400.0 L124.2,403.8 L124.9,406.5 L125.6,408.4 L126.3,409.9 L127.0,410.8 L127.7,411.4 L128.4,409.3 L129.2,406.3 L129.9,403.2 L130.6,400.9 L131.3,399.0 L132.0,396.1 L132.7,392.8 L133.4,389.0 L134.1,385.8 L134.9,383.4 L135.6,381.6 L136.3,380.5 L137.0,379.7 L137.7,378.9 L138.4,377.6 L139.1,375.3 L139.8,373.0 L140.5,371.5 L141.3,371.0 L142.0,370.6 L142.7,370.7 L143.4,370.7 L144.1,370.7 L144.8,370.0 L145.5,368.5 L146.2,367.2 L146.9,365.7 L147.7,364.5 L148.4,362.6 L149.1,360.7 L149.8,359.0 L150.5,358.0 L151.2,357.6 L151.9,356.8 L152.6,355.9 L153.3,354.6 L154.1,353.2 L154.8,352.0 L155.5,351.0 L156.2,350.1 L156.9,349.6 L157.6,349.6 L158.3,349.1 L159.0,348.8 L159.7,348.0 L160.5,346.9 L161.2,345.4 L161.9,343.8 L162.6,343.0 L163.3,342.6 L164.0,342.8 L164.7,342.9 L165.4,343.0 L166.1,343.3 L166.9,344.1 L167.6,345.1 L168.3,346.0 L169.0,346.7 L169.7,346.8 L170.4,346.6 L171.1,346.2 L171.8,346.1 L172.5,346.4 L173.3,346.6 L174.0,347.0 L174.7,347.2 L175.4,348.1 L176.1,349.7 L176.8,352.3 L177.5,354.6 L178.2,355.8 L179.0,356.2 L179.7,355.3 L180.4,354.5 L181.1,353.9 L181.8,353.5 L182.5,353.0 L183.2,350.9 L183.9,347.7 L184.6,343.5 L185.4,340.0 L186.1,337.1 L186.8,334.9 L187.5,332.8 L188.2,331.0 L188.9,329.8 L189.6,328.5 L190.3,327.5 L191.0,326.6 L191.8,325.8 L192.5,324.7 L193.2,323.1 L193.9,321.3 L194.6,319.7 L195.3,318.9 L196.0,319.0 L196.7,319.8 L197.4,321.1 L198.2,322.1 L198.9,322.7 L199.6,322.6 L200.3,322.8 L201.0,323.1 L201.7,323.9 L202.4,325.2 L203.1,326.0 L203.8,326.5 L204.6,326.3 L205.3,325.9 L206.0,325.7 L206.7,325.6 L207.4,325.7 L208.1,325.9 L208.8,325.8 L209.5,326.3 L210.2,326.9 L211.0,328.2 L211.7,329.2 L212.4,329.9 L213.1,330.9 L213.8,331.5 L214.5,333.0 L215.2,334.5 L215.9,336.4 L216.7,338.1 L217.4,339.7 L218.1,340.9 L218.8,341.9 L219.5,343.1 L220.2,344.7 L220.9,347.3 L221.6,350.1 L222.3,352.3 L223.1,353.6 L223.8,353.8 L224.5,353.7 L225.2,354.3 L225.9,355.3 L226.6,356.7 L227.3,358.0 L228.0,359.3 L228.7,360.7 L229.5,362.0 L230.2,363.3 L230.9,364.1 L231.6,364.6 L232.3,364.8 L233.0,365.5 L233.7,366.3 L234.4,367.6 L235.1,369.0 L235.9,370.6 L236.6,372.9 L237.3,375.0 L238.0,376.8 L238.7,377.9 L239.4,378.3 L240.1,379.1 L240.8,380.5 L241.5,382.2 L242.3,384.0 L243.0,385.2 L243.7,386.0 L244.4,386.4 L245.1,386.8 L245.8,387.8 L246.5,388.9 L247.2,390.3 L247.9,391.8 L248.7,392.9 L249.4,393.8 L250.1,394.3 L250.8,395.2 L251.5,395.5 L252.2,395.8 L252.9,395.8 L253.6,395.4 L254.3,395.2 L255.1,395.1 L255.8,395.7 L256.5,396.5 L257.2,397.0 L257.9,397.2 L258.6,396.8 L259.3,396.7 L260.0,398.0 L260.8,399.9 L261.5,401.6 L262.2,402.9 L262.9,403.8 L263.6,404.8 L264.3,405.8 L265.0,406.7 L265.7,407.3 L266.4,407.2 L267.2,407.6 L267.9,408.5 L268.6,410.2 L269.3,411.3 L270.0,411.5 L270.7,410.6 L271.4,409.6 L272.1,408.9 L272.8,409.2 L273.6,409.7 L274.3,410.3 L275.0,410.4 L275.7,409.5 L276.4,408.2 L277.1,406.4 L277.8,405.3 L278.5,404.6 L279.2,404.5 L280.0,404.7 L280.7,405.0 L281.4,405.8 L282.1,406.4 L282.8,406.9 L283.5,407.0 L284.2,407.0 L284.9,407.6 L285.6,408.0 L286.4,408.5 L287.1,409.2 L287.8,410.0 L288.5,411.0 L289.2,411.7 L289.9,412.1 L290.6,412.5 L291.3,412.5 L292.0,412.8 L292.8,412.8 L293.5,412.3 L294.2,411.7 L294.9,410.8 L295.6,410.5 L296.3,410.4 L297.0,410.9 L297.7,411.2 L298.4,411.8 L299.2,412.1 L299.9,412.6 L300.6,413.0 L301.3,412.9 L302.0,413.0 L302.7,412.9 L303.4,413.4 L304.1,413.6 L304.9,413.6 L305.6,413.4 L306.3,413.4 L307.0,414.0 L307.7,415.0 L308.4,415.8 L309.1,416.4 L309.8,416.9 L310.5,417.4 L311.3,417.8 L312.0,418.0 L312.7,418.3 L313.4,418.4 L314.1,419.0 L314.8,419.4 L315.5,420.1 L316.2,420.9 L316.9,421.6 L317.7,421.5 L318.4,420.6 L319.1,420.0 L319.8,419.6 L320.5,419.8" stroke="#10a24c"/>
<path d="M363.9,428.1 L364.6,428.0 L365.3,427.8 L366.0,427.3 L366.7,426.9 L367.5,426.3 L368.2,425.7 L368.9,425.1 L369.6,424.3 L370.3,423.7 L371.0,422.8 L371.7,422.1 L372.4,421.5 L373.1,421.7 L373.9,422.3 L374.6,423.0 L375.3,423.3 L376.0,423.6 L376.7,423.8 L377.4,424.1 L378.1,424.6 L378.8,425.2 L379.5,426.3 L380.3,427.7 L381.0,429.0 L381.7,429.6 L382.4,429.8 L383.1,429.8 L383.8,429.9 L384.5,430.2 L385.2,430.7 L385.9,431.5 L386.7,432.2 L387.4,432.6 L388.1,432.5 L388.8,431.6 L389.5,430.4 L390.2,429.3 L390.9,428.8 L391.6,428.7 L392.3,428.5 L393.1,428.5 L393.8,428.9 L394.5,429.3 L395.2,429.6 L395.9,429.8 L396.6,429.7 L397.3,430.0 L398.0,430.4 L398.7,431.5 L399.4,432.3 L400.2,432.5 L400.9,432.7 L401.6,432.5 L402.3,432.4 L403.0,433.0 L403.7,433.8 L404.4,435.3 L405.1,436.5 L405.8,437.3 L406.6,438.0 L407.3,438.3 L408.0,439.3 L408.7,439.9 L409.4,440.1 L410.1,439.5 L410.8,437.9 L411.5,436.8 L412.2,436.1 L413.0,436.5 L413.7,437.0 L414.4,437.4 L415.1,437.7 L415.8,437.6 L416.5,437.3 L417.2,436.5 L417.9,435.7 L418.6,434.5 L419.4,433.6 L420.1,432.5 L420.8,431.9 L421.5,431.4 L422.2,430.8 L422.9,430.6 L423.6,430.4 L424.3,430.2 L425.0,429.4 L425.8,427.7 L426.5,426.3 L427.2,425.4 L427.9,425.6 L428.6,426.3 L429.3,426.7 L430.0,427.0 L430.7,427.4 L431.4,427.5 L432.2,428.3 L432.9,430.0 L433.6,432.1 L434.3,436.1 L435.0,436.6 L435.7,434.2 L436.4,429.9 L437.1,424.9 L437.8,417.9 L438.6,409.5 L439.3,401.2 L440.0,394.2 L440.7,387.3 L441.4,380.8 L442.1,375.6 L442.8,372.4 L443.5,370.1 L444.2,368.5 L445.0,367.9 L445.7,369.3 L446.4,372.4 L447.1,376.4 L447.8,380.5 L448.5,385.5 L449.2,390.9 L449.9,395.9 L450.6,400.9 L451.4,406.2 L452.1,411.1 L452.8,414.8 L453.5,417.5 L454.2,420.0 L454.9,421.6 L455.6,420.5 L456.3,419.5 L457.0,417.2 L457.8,414.8 L458.5,411.8 L459.2,408.4 L459.9,404.5 L460.6,401.0 L461.3,398.3 L462.0,395.7 L462.7,393.5 L463.4,391.6 L464.2,390.2 L464.9,389.0 L465.6,387.5 L466.3,385.6 L467.0,384.1 L467.7,383.0 L468.4,382.5 L469.1,381.8 L469.8,381.2 L470.6,380.9 L471.3,380.9 L472.0,381.3 L472.7,381.0 L473.4,380.1 L474.1,379.2 L474.8,378.8 L475.5,378.9 L476.2,379.1 L476.9,378.4 L477.7,377.2 L478.4,376.6 L479.1,376.3 L479.8,376.8 L480.5,376.8 L481.2,376.0 L481.9,374.8 L482.6,373.0 L483.3,372.0 L484.1,370.9 L484.8,369.5 L485.5,368.2 L486.2,366.5 L486.9,365.2 L487.6,364.3 L488.3,363.5 L489.0,362.6 L489.7,361.1 L490.5,359.5 L491.2,358.0 L491.9,357.4 L492.6,358.2 L493.3,359.9 L494.0,361.3 L494.7,361.6 L495.4,360.2 L496.1,357.6 L496.9,355.9 L497.6,355.8 L498.3,356.5 L499.0,357.1 L499.7,357.5 L500.4,358.0 L501.1,358.7 L501.8,359.7 L502.5,361.1 L503.3,362.3 L504.0,363.3 L504.7,364.1 L505.4,364.6 L506.1,364.8 L506.8,364.0 L507.5,362.7 L508.2,361.4 L508.9,360.3 L509.7,358.8 L510.4,357.4 L511.1,355.4 L511.8,352.7 L512.5,349.4 L513.2,346.0 L513.9,343.1 L514.6,340.6 L515.3,338.9 L516.1,337.3 L516.8,335.9 L517.5,334.0 L518.2,331.9 L518.9,329.6 L519.6,328.0 L520.3,327.0 L521.0,326.4 L521.7,325.0 L522.5,323.9 L523.2,322.8 L523.9,322.1 L524.6,322.1 L525.3,321.2 L526.0,320.4 L526.7,319.0 L527.4,319.1 L528.1,319.4 L528.9,319.6 L529.6,319.3 L530.3,318.3 L531.0,317.4 L531.7,316.7 L532.4,317.1 L533.1,317.8 L533.8,319.4 L534.5,321.5 L535.3,323.9 L536.0,325.8 L536.7,326.3 L537.4,326.5 L538.1,326.8 L538.8,327.3 L539.5,328.1 L540.2,328.1 L540.9,327.8 L541.6,327.9 L542.4,328.6 L543.1,330.1 L543.8,331.6 L544.5,333.0 L545.2,334.0 L545.9,335.0 L546.6,336.2 L547.3,337.2 L548.0,338.5 L548.8,339.5 L549.5,340.3 L550.2,340.9 L550.9,341.5 L551.6,342.8 L552.3,344.1 L553.0,345.6 L553.7,346.7 L554.4,347.7 L555.2,349.1 L555.9,351.2 L556.6,354.0 L557.3,356.3 L558.0,358.2 L558.7,359.3 L559.4,360.1 L560.1,360.9 L560.8,361.7 L561.6,362.2 L562.3,362.3 L563.0,362.3 L563.7,362.3 L564.4,362.4 L565.1,362.9 L565.8,363.5 L566.5,364.4 L567.2,365.5 L568.0,366.8 L568.7,368.2 L569.4,369.7 L570.1,371.1 L570.8,372.1 L571.5,373.0 L572.2,374.0 L572.9,375.2 L573.6,376.1 L574.4,376.7 L575.1,377.7 L575.8,379.4 L576.5,381.5 L577.2,383.2 L577.9,383.4 L578.6,383.0 L579.3,382.3 L580.0,382.7 L580.8,383.7 L581.5,384.7 L582.2,385.1 L582.9,384.8 L583.6,384.5 L584.3,384.6 L585.0,385.3 L585.7,385.7 L586.4,385.8 L587.2,385.4 L587.9,385.0 L588.6,384.7 L589.3,384.9 L590.0,387.0 L590.7,387.8 L591.4,388.3 L592.1,388.8 L592.8,389.6 L593.6,390.7 L594.3,392.1 L595.0,394.2 L595.7,396.4 L596.4,398.9 L597.1,400.6 L597.8,400.7 L598.5,399.9 L599.2,399.0 L600.0,399.0 L600.7,399.1 L601.4,399.3 L602.1,399.0 L602.8,398.8 L603.5,399.1 L604.2,399.9 L604.9,400.9 L605.6,401.6 L606.4,401.6 L607.1,401.7 L607.8,401.8 L608.5,402.5 L609.2,403.7 L609.9,404.5 L610.6,405.4 L611.3,405.7 L612.0,405.3 L612.8,403.6 L613.5,401.8 L614.2,401.2 L614.9,401.2 L615.6,401.5 L616.3,401.9 L617.0,402.4 L617.7,403.0 L618.4,403.7 L619.1,404.4 L619.9,404.5 L620.6,404.7 L621.3,404.9 L622.0,405.9 L622.7,407.0 L623.4,407.9 L624.1,408.7 L624.8,408.9 L625.5,408.9 L626.3,407.9 L627.0,406.5 L627.7,404.9 L628.4,404.1 L629.1,404.9 L629.8,405.8 L630.5,406.4 L631.2,406.9 L631.9,407.4 L632.7,408.1 L633.4,408.6 L634.1,408.9 L634.8,409.1 L635.5,408.9 L636.2,408.9 L636.9,409.1 L637.6,410.0 L638.3,411.1 L639.1,412.0 L639.8,412.4 L640.5,411.9 L641.2,411.3 L641.9,410.6 L642.6,410.1 L643.3,409.8 L644.0,409.6 L644.7,410.0 L645.5,410.9 L646.2,412.1 L646.9,413.2 L647.6,413.6 L648.3,413.6" stroke="#0a0a0a"/>
<path d="M363.9,429.6 L364.6,429.1 L365.3,428.7 L366.0,428.2 L366.7,427.7 L367.5,427.5 L368.2,427.5 L368.9,428.0 L369.6,428.3 L370.3,428.1 L371.0,426.9 L371.7,425.4 L372.4,424.5 L373.1,424.0 L373.9,424.0 L374.6,424.7 L375.3,425.9 L376.0,427.8 L376.7,429.8 L377.4,431.4 L378.1,432.2 L378.8,432.4 L379.5,432.8 L380.3,433.2 L381.0,433.7 L381.7,434.4 L382.4,434.5 L383.1,434.6 L383.8,434.2 L384.5,433.9 L385.2,433.7 L385.9,433.8 L386.7,433.6 L387.4,432.7 L388.1,432.0 L388.8,431.5 L389.5,431.8 L390.2,432.5 L390.9,433.1 L391.6,432.9 L392.3,431.9 L393.1,430.5 L393.8,429.7 L394.5,429.5 L395.2,429.8 L395.9,430.2 L396.6,429.9 L397.3,429.5 L398.0,428.9 L398.7,429.0 L399.4,429.6 L400.2,430.1 L400.9,430.4 L401.6,430.5 L402.3,430.8 L403.0,431.0 L403.7,431.1 L404.4,430.7 L405.1,430.1 L405.8,429.8 L406.6,429.7 L407.3,429.9 L408.0,430.0 L408.7,429.9 L409.4,429.5 L410.1,428.9 L410.8,428.7 L411.5,429.0 L412.2,430.2 L413.0,431.5 L413.7,432.7 L414.4,433.3 L415.1,433.2 L415.8,432.5 L416.5,431.8 L417.2,431.4 L417.9,431.7 L418.6,432.4 L419.4,433.3 L420.1,433.7 L420.8,433.7 L421.5,433.3 L422.2,432.6 L422.9,432.4 L423.6,432.0 L424.3,431.5 L425.0,430.0 L425.8,428.0 L426.5,426.3 L427.2,425.6 L427.9,425.7 L428.6,426.3 L429.3,426.6 L430.0,427.2 L430.7,428.4 L431.4,429.8 L432.2,432.1 L432.9,434.5 L433.6,436.9 L434.3,436.6 L435.0,436.8 L435.7,434.4 L436.4,430.3 L437.1,425.4 L437.8,418.0 L438.6,409.1 L439.3,400.2 L440.0,393.0 L440.7,386.1 L441.4,379.6 L442.1,374.3 L442.8,371.0 L443.5,368.6 L444.2,366.8 L445.0,365.8 L445.7,366.1 L446.4,367.6 L447.1,370.0 L447.8,372.8 L448.5,376.8 L449.2,381.7 L449.9,386.5 L450.6,390.8 L451.4,395.2 L452.1,399.4 L452.8,402.9 L453.5,405.5 L454.2,408.0 L454.9,409.7 L455.6,410.5 L456.3,409.2 L457.0,407.3 L457.8,405.1 L458.5,402.7 L459.2,399.6 L459.9,396.0 L460.6,392.8 L461.3,389.8 L462.0,387.6 L462.7,385.5 L463.4,384.0 L464.2,382.7 L464.9,381.5 L465.6,380.2 L466.3,377.8 L467.0,375.3 L467.7,373.1 L468.4,371.9 L469.1,371.3 L469.8,370.5 L470.6,369.7 L471.3,368.6 L472.0,367.4 L472.7,366.7 L473.4,366.0 L474.1,365.0 L474.8,363.3 L475.5,361.2 L476.2,359.1 L476.9,357.2 L477.7,355.8 L478.4,354.8 L479.1,354.3 L479.8,354.0 L480.5,353.9 L481.2,354.3 L481.9,354.3 L482.6,354.5 L483.3,354.5 L484.1,354.4 L484.8,354.5 L485.5,354.1 L486.2,353.6 L486.9,352.7 L487.6,351.3 L488.3,349.8 L489.0,347.9 L489.7,346.6 L490.5,345.5 L491.2,344.7 L491.9,344.5 L492.6,344.8 L493.3,345.8 L494.0,346.4 L494.7,346.6 L495.4,345.8 L496.1,344.7 L496.9,343.8 L497.6,343.8 L498.3,344.5 L499.0,345.7 L499.7,347.7 L500.4,349.8 L501.1,351.1 L501.8,352.2 L502.5,353.0 L503.3,354.1 L504.0,355.6 L504.7,356.9 L505.4,357.5 L506.1,356.7 L506.8,355.5 L507.5,354.0 L508.2,352.9 L508.9,351.8 L509.7,350.3 L510.4,348.9 L511.1,346.5 L511.8,343.9 L512.5,340.8 L513.2,337.7 L513.9,334.7 L514.6,331.6 L515.3,328.8 L516.1,326.1 L516.8,324.0 L517.5,322.6 L518.2,321.2 L518.9,320.3 L519.6,319.6 L520.3,319.5 L521.0,319.1 L521.7,318.4 L522.5,317.4 L523.2,315.5 L523.9,314.0 L524.6,312.6 L525.3,311.9 L526.0,311.8 L526.7,312.0 L527.4,312.2 L528.1,311.7 L528.9,310.8 L529.6,309.9 L530.3,309.5 L531.0,309.7 L531.7,310.2 L532.4,310.6 L533.1,310.2 L533.8,309.6 L534.5,309.5 L535.3,309.9 L536.0,310.9 L536.7,312.0 L537.4,312.3 L538.1,312.3 L538.8,311.7 L539.5,311.3 L540.2,311.0 L540.9,311.4 L541.6,312.4 L542.4,313.8 L543.1,315.2 L543.8,316.0 L544.5,316.7 L545.2,317.6 L545.9,319.4 L546.6,321.1 L547.3,322.8 L548.0,323.9 L548.8,325.3 L549.5,327.6 L550.2,330.1 L550.9,332.7 L551.6,334.7 L552.3,336.5 L553.0,337.7 L553.7,339.0 L554.4,340.2 L555.2,341.5 L555.9,342.7 L556.6,344.1 L557.3,345.4 L558.0,347.0 L558.7,349.0 L559.4,350.3 L560.1,351.0 L560.8,350.7 L561.6,350.3 L562.3,350.4 L563.0,351.0 L563.7,352.2 L564.4,353.4 L565.1,355.0 L565.8,356.4 L566.5,357.6 L567.2,358.3 L568.0,358.4 L568.7,358.9 L569.4,359.8 L570.1,361.1 L570.8,362.5 L571.5,363.9 L572.2,365.4 L572.9,366.9 L573.6,367.7 L574.4,368.3 L575.1,368.7 L575.8,369.7 L576.5,371.3 L577.2,373.0 L577.9,374.1 L578.6,374.7 L579.3,375.5 L580.0,376.3 L580.8,377.1 L581.5,377.5 L582.2,377.9 L582.9,378.6 L583.6,379.3 L584.3,380.1 L585.0,380.8 L585.7,381.9 L586.4,383.2 L587.2,384.7 L587.9,385.9 L588.6,386.2 L589.3,385.8 L590.0,384.4 L590.7,384.4 L591.4,385.1 L592.1,386.2 L592.8,387.8 L593.6,389.7 L594.3,392.4 L595.0,394.0 L595.7,394.3 L596.4,394.6 L597.1,394.6 L597.8,394.2 L598.5,393.2 L599.2,391.9 L600.0,390.8 L600.7,389.8 L601.4,389.3 L602.1,389.3 L602.8,389.8 L603.5,391.2 L604.2,392.7 L604.9,393.6 L605.6,393.1 L606.4,392.1 L607.1,391.4 L607.8,391.6 L608.5,392.7 L609.2,393.7 L609.9,394.6 L610.6,394.8 L611.3,395.1 L612.0,395.4 L612.8,395.2 L613.5,395.5 L614.2,395.9 L614.9,397.4 L615.6,399.3 L616.3,401.1 L617.0,402.4 L617.7,402.8 L618.4,402.5 L619.1,401.7 L619.9,401.2 L620.6,401.1 L621.3,401.7 L622.0,402.3 L622.7,402.6 L623.4,402.5 L624.1,401.5 L624.8,400.8 L625.5,400.3 L626.3,401.2 L627.0,403.2 L627.7,404.7 L628.4,405.6 L629.1,406.1 L629.8,406.5 L630.5,406.6 L631.2,406.7 L631.9,406.5 L632.7,406.7 L633.4,406.5 L634.1,406.8 L634.8,406.8 L635.5,407.1 L636.2,407.8 L636.9,408.3 L637.6,409.4 L638.3,410.6 L639.1,412.3 L639.8,413.4 L640.5,413.8 L641.2,413.2 L641.9,412.3 L642.6,411.4 L643.3,411.3 L644.0,412.0 L644.7,413.4 L645.5,414.7 L646.2,415.5 L646.9,415.5 L647.6,415.3 L648.3,415.5" stroke="#e2181f"/>
<path d="M363.9,425.9 L364.6,426.1 L365.3,426.5 L366.0,427.1 L366.7,428.1 L367.5,428.9 L368.2,429.2 L368.9,429.3 L369.6,429.0 L370.3,428.9 L371.0,428.9 L371.7,428.6 L372.4,428.6 L373.1,428.7 L373.9,429.0 L374.6,429.5 L375.3,429.4 L376.0,429.1 L376.7,428.5 L377.4,428.0 L378.1,427.9 L378.8,427.9 L379.5,428.0 L380.3,428.2 L381.0,428.6 L381.7,428.8 L382.4,428.8 L383.1,428.3 L383.8,427.5 L384.5,426.8 L385.2,426.3 L385.9,426.5 L386.7,426.9 L387.4,426.9 L388.1,426.8 L388.8,426.5 L389.5,426.9 L390.2,427.5 L390.9,427.9 L391.6,427.7 L392.3,427.5 L393.1,427.5 L393.8,427.9 L394.5,428.5 L395.2,428.8 L395.9,428.9 L396.6,428.8 L397.3,429.0 L398.0,429.4 L398.7,429.8 L399.4,430.6 L400.2,431.4 L400.9,432.4 L401.6,433.1 L402.3,433.5 L403.0,433.4 L403.7,433.0 L404.4,432.5 L405.1,432.7 L405.8,433.1 L406.6,433.8 L407.3,434.2 L408.0,433.8 L408.7,433.3 L409.4,432.9 L410.1,433.1 L410.8,433.5 L411.5,433.9 L412.2,434.3 L413.0,434.8 L413.7,435.5 L414.4,435.9 L415.1,435.8 L415.8,435.0 L416.5,434.3 L417.2,434.0 L417.9,434.1 L418.6,434.5 L419.4,434.6 L420.1,435.0 L420.8,435.2 L421.5,435.6 L422.2,436.0 L422.9,435.9 L423.6,435.7 L424.3,435.1 L425.0,434.0 L425.8,432.3 L426.5,430.3 L427.2,428.9 L427.9,428.2 L428.6,428.2 L429.3,428.7 L430.0,429.3 L430.7,430.1 L431.4,430.7 L432.2,431.5 L432.9,433.2 L433.6,434.8 L434.3,435.1 L435.0,435.2 L435.7,433.0 L436.4,429.4 L437.1,425.2 L437.8,418.5 L438.6,410.0 L439.3,401.4 L440.0,394.4 L440.7,387.8 L441.4,381.7 L442.1,376.7 L442.8,373.4 L443.5,370.7 L444.2,368.6 L445.0,367.4 L445.7,367.6 L446.4,369.0 L447.1,371.2 L447.8,374.0 L448.5,378.1 L449.2,383.4 L449.9,388.4 L450.6,392.9 L451.4,397.5 L452.1,401.7 L452.8,405.5 L453.5,408.3 L454.2,411.1 L454.9,413.0 L455.6,414.7 L456.3,413.4 L457.0,410.6 L457.8,407.8 L458.5,405.3 L459.2,402.6 L459.9,399.3 L460.6,395.8 L461.3,392.3 L462.0,389.3 L462.7,387.7 L463.4,387.8 L464.2,388.7 L464.9,389.6 L465.6,389.6 L466.3,388.8 L467.0,387.9 L467.7,386.8 L468.4,385.9 L469.1,384.8 L469.8,384.3 L470.6,384.3 L471.3,384.6 L472.0,384.7 L472.7,383.6 L473.4,382.0 L474.1,380.2 L474.8,379.1 L475.5,379.0 L476.2,379.4 L476.9,380.1 L477.7,379.7 L478.4,379.0 L479.1,377.6 L479.8,376.9 L480.5,376.5 L481.2,376.3 L481.9,376.2 L482.6,375.7 L483.3,375.7 L484.1,375.3 L484.8,374.9 L485.5,374.2 L486.2,373.7 L486.9,373.1 L487.6,372.0 L488.3,370.5 L489.0,368.8 L489.7,367.4 L490.5,366.1 L491.2,364.5 L491.9,362.0 L492.6,359.4 L493.3,358.4 L494.0,358.3 L494.7,358.5 L495.4,358.8 L496.1,359.0 L496.9,357.3 L497.6,354.4 L498.3,352.5 L499.0,352.5 L499.7,353.7 L500.4,355.6 L501.1,357.3 L501.8,358.6 L502.5,359.7 L503.3,360.2 L504.0,360.6 L504.7,360.5 L505.4,359.8 L506.1,358.9 L506.8,357.5 L507.5,356.8 L508.2,356.4 L508.9,355.5 L509.7,354.0 L510.4,351.7 L511.1,349.3 L511.8,346.3 L512.5,343.7 L513.2,340.8 L513.9,338.3 L514.6,336.0 L515.3,333.2 L516.1,330.1 L516.8,326.1 L517.5,322.7 L518.2,319.8 L518.9,317.9 L519.6,316.7 L520.3,315.6 L521.0,314.4 L521.7,313.0 L522.5,311.9 L523.2,310.4 L523.9,308.7 L524.6,307.6 L525.3,307.4 L526.0,308.8 L526.7,310.5 L527.4,312.0 L528.1,312.3 L528.9,311.8 L529.6,311.5 L530.3,311.8 L531.0,312.7 L531.7,313.5 L532.4,313.9 L533.1,313.6 L533.8,313.3 L534.5,313.2 L535.3,313.5 L536.0,313.2 L536.7,313.0 L537.4,312.4 L538.1,311.6 L538.8,310.3 L539.5,309.2 L540.2,308.5 L540.9,308.4 L541.6,308.7 L542.4,309.1 L543.1,310.2 L543.8,312.2 L544.5,314.8 L545.2,316.7 L545.9,318.1 L546.6,319.5 L547.3,321.0 L548.0,322.5 L548.8,323.4 L549.5,324.2 L550.2,324.9 L550.9,325.3 L551.6,326.0 L552.3,326.6 L553.0,327.6 L553.7,328.7 L554.4,330.2 L555.2,331.6 L555.9,332.8 L556.6,333.3 L557.3,333.3 L558.0,333.3 L558.7,333.9 L559.4,335.7 L560.1,337.7 L560.8,339.6 L561.6,340.5 L562.3,341.5 L563.0,342.5 L563.7,343.7 L564.4,344.8 L565.1,345.5 L565.8,346.3 L566.5,346.9 L567.2,347.8 L568.0,348.9 L568.7,350.8 L569.4,353.3 L570.1,355.5 L570.8,357.5 L571.5,359.0 L572.2,360.6 L572.9,361.8 L573.6,362.7 L574.4,364.2 L575.1,365.7 L575.8,367.4 L576.5,368.9 L577.2,369.4 L577.9,370.0 L578.6,370.6 L579.3,371.5 L580.0,372.6 L580.8,373.0 L581.5,373.6 L582.2,373.4 L582.9,373.4 L583.6,373.8 L584.3,374.5 L585.0,375.7 L585.7,376.8 L586.4,378.2 L587.2,379.5 L587.9,380.8 L588.6,381.7 L589.3,382.0 L590.0,381.2 L590.7,381.4 L591.4,381.7 L592.1,382.0 L592.8,382.2 L593.6,382.3 L594.3,383.3 L595.0,384.7 L595.7,387.0 L596.4,388.9 L597.1,389.8 L597.8,389.7 L598.5,388.8 L599.2,388.5 L600.0,388.7 L600.7,389.3 L601.4,389.8 L602.1,389.6 L602.8,388.7 L603.5,387.6 L604.2,387.3 L604.9,387.6 L605.6,388.8 L606.4,389.9 L607.1,390.1 L607.8,390.6 L608.5,391.4 L609.2,392.9 L609.9,394.4 L610.6,395.0 L611.3,395.3 L612.0,394.8 L612.8,394.9 L613.5,395.2 L614.2,395.5 L614.9,396.1 L615.6,396.4 L616.3,397.0 L617.0,397.8 L617.7,398.7 L618.4,399.5 L619.1,399.8 L619.9,399.6 L620.6,399.6 L621.3,399.5 L622.0,399.6 L622.7,400.0 L623.4,400.3 L624.1,400.8 L624.8,401.1 L625.5,401.3 L626.3,401.4 L627.0,401.2 L627.7,401.1 L628.4,401.4 L629.1,401.6 L629.8,402.1 L630.5,403.2 L631.2,404.1 L631.9,405.2 L632.7,405.4 L633.4,405.2 L634.1,405.0 L634.8,405.0 L635.5,406.1 L636.2,407.1 L636.9,407.8 L637.6,408.1 L638.3,407.7 L639.1,407.9 L639.8,408.9 L640.5,410.2 L641.2,411.4 L641.9,411.5 L642.6,411.0 L643.3,410.3 L644.0,409.8 L644.7,409.9 L645.5,410.2 L646.2,410.9 L646.9,411.7 L647.6,412.6 L648.3,413.4" stroke="#2a9fd9"/>
<path d="M363.9,426.5 L364.6,427.3 L365.3,428.7 L366.0,429.9 L366.7,430.7 L367.5,430.7 L368.2,430.3 L368.9,430.0 L369.6,429.7 L370.3,429.7 L371.0,429.7 L371.7,430.3 L372.4,431.1 L373.1,431.9 L373.9,432.2 L374.6,431.9 L375.3,431.4 L376.0,431.0 L376.7,430.3 L377.4,430.0 L378.1,429.9 L378.8,430.2 L379.5,430.9 L380.3,431.2 L381.0,431.1 L381.7,430.2 L382.4,429.0 L383.1,429.0 L383.8,429.0 L384.5,429.4 L385.2,429.5 L385.9,428.6 L386.7,428.3 L387.4,428.1 L388.1,428.9 L388.8,429.8 L389.5,429.8 L390.2,429.2 L390.9,427.8 L391.6,427.1 L392.3,426.8 L393.1,427.3 L393.8,427.9 L394.5,428.2 L395.2,428.5 L395.9,428.2 L396.6,428.0 L397.3,428.1 L398.0,428.7 L398.7,429.7 L399.4,430.5 L400.2,430.9 L400.9,431.1 L401.6,431.4 L402.3,431.3 L403.0,431.7 L403.7,431.4 L404.4,431.3 L405.1,430.6 L405.8,430.0 L406.6,429.9 L407.3,429.9 L408.0,430.2 L408.7,429.8 L409.4,429.2 L410.1,428.4 L410.8,427.9 L411.5,427.4 L412.2,427.4 L413.0,427.8 L413.7,428.7 L414.4,429.6 L415.1,429.9 L415.8,430.1 L416.5,430.2 L417.2,430.7 L417.9,432.1 L418.6,433.1 L419.4,433.5 L420.1,433.0 L420.8,431.8 L421.5,431.2 L422.2,430.6 L422.9,430.6 L423.6,430.0 L424.3,428.8 L425.0,427.8 L425.8,426.5 L426.5,425.1 L427.2,423.2 L427.9,421.9 L428.6,421.7 L429.3,422.8 L430.0,424.6 L430.7,426.0 L431.4,427.3 L432.2,429.1 L432.9,431.4 L433.6,433.3 L434.3,433.2 L435.0,433.2 L435.7,431.0 L436.4,427.3 L437.1,423.0 L437.8,415.8 L438.6,406.6 L439.3,397.3 L440.0,389.6 L440.7,382.3 L441.4,375.5 L442.1,370.2 L442.8,367.0 L443.5,364.7 L444.2,362.7 L445.0,361.3 L445.7,361.0 L446.4,362.2 L447.1,364.6 L447.8,367.3 L448.5,371.1 L449.2,376.3 L449.9,381.9 L450.6,387.0 L451.4,392.4 L452.1,397.6 L452.8,401.9 L453.5,404.8 L454.2,407.6 L454.9,409.4 L455.6,409.8 L456.3,407.6 L457.0,404.1 L457.8,401.1 L458.5,398.8 L459.2,396.3 L459.9,393.4 L460.6,390.0 L461.3,386.4 L462.0,383.0 L462.7,379.6 L463.4,377.0 L464.2,374.3 L464.9,371.0 L465.6,367.8 L466.3,364.7 L467.0,362.6 L467.7,361.2 L468.4,360.8 L469.1,361.0 L469.8,360.8 L470.6,360.3 L471.3,359.3 L472.0,358.4 L472.7,357.3 L473.4,356.1 L474.1,354.2 L474.8,352.6 L475.5,350.4 L476.2,348.9 L476.9,348.1 L477.7,347.5 L478.4,347.4 L479.1,346.5 L479.8,345.3 L480.5,343.3 L481.2,342.2 L481.9,341.8 L482.6,342.6 L483.3,343.2 L484.1,343.2 L484.8,342.8 L485.5,340.9 L486.2,338.9 L486.9,336.8 L487.6,335.2 L488.3,334.5 L489.0,333.9 L489.7,333.6 L490.5,333.0 L491.2,332.2 L491.9,331.9 L492.6,331.4 L493.3,331.0 L494.0,331.3 L494.7,332.1 L495.4,332.6 L496.1,332.3 L496.9,330.8 L497.6,329.1 L498.3,328.0 L499.0,328.2 L499.7,329.6 L500.4,331.4 L501.1,333.3 L501.8,335.9 L502.5,338.2 L503.3,340.6 L504.0,342.3 L504.7,343.1 L505.4,342.6 L506.1,341.9 L506.8,341.5 L507.5,341.2 L508.2,341.0 L508.9,340.0 L509.7,339.3 L510.4,337.9 L511.1,336.5 L511.8,334.3 L512.5,331.6 L513.2,328.8 L513.9,325.7 L514.6,323.5 L515.3,321.5 L516.1,320.0 L516.8,318.0 L517.5,316.1 L518.2,313.9 L518.9,311.7 L519.6,309.5 L520.3,308.1 L521.0,307.0 L521.7,306.2 L522.5,305.6 L523.2,304.2 L523.9,303.6 L524.6,302.8 L525.3,303.0 L526.0,303.0 L526.7,303.0 L527.4,303.4 L528.1,304.0 L528.9,305.2 L529.6,306.3 L530.3,306.8 L531.0,306.7 L531.7,305.8 L532.4,304.6 L533.1,304.2 L533.8,304.3 L534.5,305.6 L535.3,306.5 L536.0,307.3 L536.7,307.7 L537.4,308.4 L538.1,309.9 L538.8,311.3 L539.5,312.7 L540.2,313.9 L540.9,314.4 L541.6,314.7 L542.4,314.9 L543.1,315.4 L543.8,315.8 L544.5,316.2 L545.2,317.3 L545.9,318.5 L546.6,320.1 L547.3,321.6 L548.0,322.7 L548.8,323.7 L549.5,325.0 L550.2,326.8 L550.9,328.7 L551.6,329.9 L552.3,330.7 L553.0,331.4 L553.7,332.1 L554.4,333.0 L555.2,333.9 L555.9,334.9 L556.6,335.8 L557.3,336.5 L558.0,337.5 L558.7,338.2 L559.4,339.0 L560.1,340.2 L560.8,341.3 L561.6,342.8 L562.3,343.6 L563.0,344.4 L563.7,344.5 L564.4,344.4 L565.1,344.8 L565.8,345.8 L566.5,347.7 L567.2,349.5 L568.0,351.2 L568.7,352.3 L569.4,353.4 L570.1,354.5 L570.8,356.0 L571.5,357.7 L572.2,359.4 L572.9,361.2 L573.6,362.4 L574.4,363.1 L575.1,363.6 L575.8,365.4 L576.5,367.4 L577.2,368.7 L577.9,368.8 L578.6,368.3 L579.3,367.3 L580.0,366.2 L580.8,365.9 L581.5,365.6 L582.2,366.2 L582.9,367.2 L583.6,368.4 L584.3,369.6 L585.0,370.0 L585.7,370.0 L586.4,369.3 L587.2,368.9 L587.9,369.4 L588.6,370.7 L589.3,373.0 L590.0,376.1 L590.7,377.2 L591.4,377.0 L592.1,376.6 L592.8,375.9 L593.6,375.5 L594.3,375.5 L595.0,376.2 L595.7,377.3 L596.4,378.7 L597.1,379.7 L597.8,380.5 L598.5,380.8 L599.2,380.8 L600.0,381.0 L600.7,380.9 L601.4,381.1 L602.1,381.0 L602.8,380.8 L603.5,380.6 L604.2,380.7 L604.9,381.1 L605.6,381.5 L606.4,381.5 L607.1,380.6 L607.8,379.6 L608.5,378.5 L609.2,378.7 L609.9,380.0 L610.6,381.7 L611.3,383.7 L612.0,384.9 L612.8,385.7 L613.5,386.5 L614.2,386.9 L614.9,387.5 L615.6,387.6 L616.3,387.4 L617.0,387.2 L617.7,387.6 L618.4,388.3 L619.1,389.3 L619.9,390.1 L620.6,390.1 L621.3,390.2 L622.0,389.9 L622.7,389.6 L623.4,389.2 L624.1,388.9 L624.8,389.3 L625.5,389.9 L626.3,390.5 L627.0,390.2 L627.7,389.3 L628.4,388.3 L629.1,388.0 L629.8,388.8 L630.5,389.5 L631.2,390.1 L631.9,390.1 L632.7,390.0 L633.4,389.9 L634.1,390.0 L634.8,390.0 L635.5,390.4 L636.2,390.9 L636.9,391.4 L637.6,391.7 L638.3,391.3 L639.1,391.1 L639.8,391.2 L640.5,392.3 L641.2,393.5 L641.9,394.5 L642.6,394.8 L643.3,395.0 L644.0,395.0 L644.7,395.3 L645.5,395.8 L646.2,396.4 L646.9,397.9 L647.6,399.5 L648.3,401.5" stroke="#10a24c"/>
</g>
<text x="150.4" y="13.1" font-size="17.4" textLength="115.5" lengthAdjust="spacingAndGlyphs">Fictional language</text>
<text x="483.0" y="13.2" font-size="17.4" textLength="93.1" lengthAdjust="spacingAndGlyphs">Mother-tongue</text>
<text x="3.2" y="29.2" font-size="15.2" textLength="80.7" lengthAdjust="spacingAndGlyphs">Fronto-central</text>
<text x="30.5" y="46.9" font-size="15.0" textLength="24.3" lengthAdjust="spacingAndGlyphs">pool</text>
<text x="0.9" y="251.5" font-size="15.2" textLength="83.8" lengthAdjust="spacingAndGlyphs">Centro-parietal</text>
<text x="30.5" y="269.2" font-size="15.0" textLength="24.3" lengthAdjust="spacingAndGlyphs">pool</text>
<text x="293.6" y="208.0" font-size="15.6" textLength="56.1" lengthAdjust="spacingAndGlyphs">Time (ms)</text>
<text x="112.3" y="59.9" font-size="15.7" textLength="13.6" lengthAdjust="spacingAndGlyphs">P2</text>
<text x="133.3" y="59.9" font-size="15.7" textLength="35.3" lengthAdjust="spacingAndGlyphs">N2–N3</text>
<text x="208.3" y="59.9" font-size="15.7" textLength="13.8" lengthAdjust="spacingAndGlyphs">P3</text>
<text x="39.2" y="128.1" font-size="17.8" font-style="italic" textLength="20.8" lengthAdjust="spacingAndGlyphs">μV</text>
<g class="lg">
<line x1="500" y1="212.4" x2="521" y2="212.401" stroke="#0a0a0a" stroke-width="2.6"/>
<text x="525.6" y="215.1" font-size="10.2" textLength="24.4" lengthAdjust="spacingAndGlyphs">Neutral</text>
<text x="554.3" y="215.1" font-size="10.2" textLength="17.6" lengthAdjust="spacingAndGlyphs">Face</text>
<text x="574.2" y="215.1" font-size="10.2" textLength="24.2" lengthAdjust="spacingAndGlyphs">Neutral</text>
<text x="602.5" y="215.1" font-size="10.2" textLength="30.4" lengthAdjust="spacingAndGlyphs">Prosody</text>
<line x1="500" y1="227.2" x2="521" y2="227.201" stroke="#e2181f" stroke-width="2.6"/>
<text x="526.2" y="230.4" font-size="10.2" textLength="23.6" lengthAdjust="spacingAndGlyphs">Painful</text>
<text x="553.6" y="230.4" font-size="10.2" textLength="18.0" lengthAdjust="spacingAndGlyphs">Face</text>
<text x="573.8" y="230.4" font-size="10.2" textLength="24.2" lengthAdjust="spacingAndGlyphs">Neutral</text>
<text x="602.2" y="230.4" font-size="10.2" textLength="30.4" lengthAdjust="spacingAndGlyphs">Prosody</text>
<line x1="500" y1="243.9" x2="521" y2="243.9" stroke="#efc9a0" stroke-width="1"/>
<line x1="500" y1="242.4" x2="521" y2="242.401" stroke="url(#lg)" stroke-width="2.6"/>
<text x="526.0" y="247.3" font-size="10.2" textLength="24.6" lengthAdjust="spacingAndGlyphs">Neutral</text>
<text x="554.7" y="247.3" font-size="10.2" textLength="17.7" lengthAdjust="spacingAndGlyphs">Face</text>
<text x="574.5" y="247.3" font-size="10.2" textLength="22.8" lengthAdjust="spacingAndGlyphs">Painful</text>
<text x="602.2" y="247.3" font-size="10.2" textLength="30.4" lengthAdjust="spacingAndGlyphs">Prosody</text>
<line x1="500" y1="258.2" x2="521" y2="258.20099999999996" stroke="#10a24c" stroke-width="2.6"/>
<text x="526.0" y="260.9" font-size="10.2" textLength="23.4" lengthAdjust="spacingAndGlyphs">Painful</text>
<text x="553.2" y="260.9" font-size="10.2" textLength="18.0" lengthAdjust="spacingAndGlyphs">Face</text>
<text x="573.4" y="260.9" font-size="10.2" textLength="23.2" lengthAdjust="spacingAndGlyphs">Painful</text>
<text x="600.8" y="260.9" font-size="10.2" textLength="30.4" lengthAdjust="spacingAndGlyphs">Prosody</text>
</g>
</g>
</svg></body></html>
